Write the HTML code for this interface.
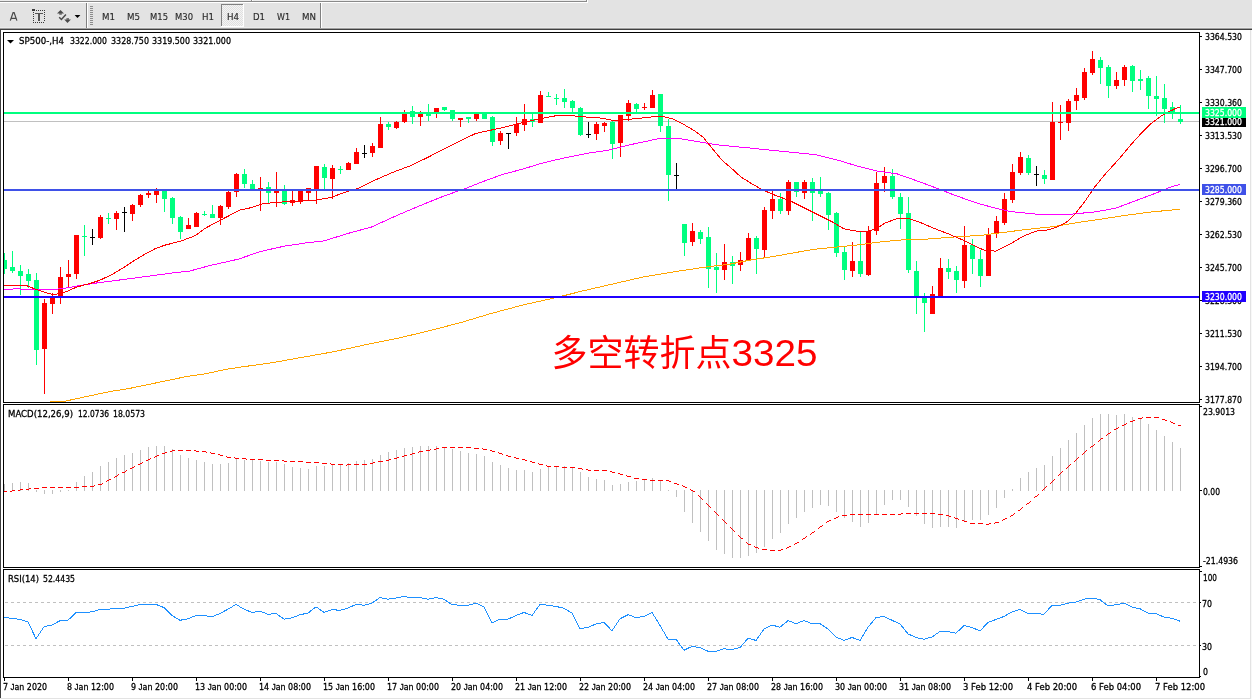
<!DOCTYPE html>
<html><head><meta charset="utf-8"><title>SP500 H4</title>
<style>html,body{margin:0;padding:0;background:#fff;overflow:hidden;}svg{display:block;will-change:transform;}</style>
</head><body>
<svg width="1252" height="699" viewBox="0 0 1252 699" shape-rendering="crispEdges" font-family="DejaVu Sans, Liberation Sans, sans-serif">
<rect x="0" y="0" width="1252" height="699" fill="#ffffff"/>
<rect x="0" y="0" width="1252" height="28" fill="#e3e3e3"/>
<rect x="0" y="0" width="586" height="1" fill="#ececec"/>
<rect x="0" y="1" width="586" height="1" fill="#8a8a8a"/>
<rect x="586" y="0" width="1" height="2" fill="#8a8a8a"/>
<rect x="0" y="2" width="588" height="1" fill="#ffffff"/>
<rect x="587" y="0" width="1" height="3" fill="#ffffff"/>
<rect x="251" y="0" width="1" height="1" fill="#8a8a8a"/>
<rect x="252" y="0" width="1" height="1" fill="#ffffff"/>
<rect x="0" y="27" width="1252" height="1" fill="#ebebeb"/>
<rect x="0" y="28" width="1252" height="1" fill="#a0a0a0"/>
<rect x="0" y="29" width="1252" height="1" fill="#404040"/>
<rect x="0" y="29" width="1" height="670" fill="#404040"/>
<rect x="1250" y="30" width="1" height="669" fill="#e3e3e3"/>
<rect x="0" y="698" width="1252" height="1" fill="#e3e3e3"/>
<rect x="1251" y="30" width="1" height="669" fill="#f8f8f8"/>
<rect x="86" y="3" width="1" height="25" fill="#808080"/>
<rect x="87" y="3" width="1" height="25" fill="#ffffff"/>
<rect x="90" y="6" width="3" height="1" fill="#8c8c8c"/>
<rect x="90" y="8" width="3" height="1" fill="#8c8c8c"/>
<rect x="90" y="10" width="3" height="1" fill="#8c8c8c"/>
<rect x="90" y="12" width="3" height="1" fill="#8c8c8c"/>
<rect x="90" y="14" width="3" height="1" fill="#8c8c8c"/>
<rect x="90" y="16" width="3" height="1" fill="#8c8c8c"/>
<rect x="90" y="18" width="3" height="1" fill="#8c8c8c"/>
<rect x="90" y="20" width="3" height="1" fill="#8c8c8c"/>
<rect x="90" y="22" width="3" height="1" fill="#8c8c8c"/>
<rect x="90" y="24" width="3" height="1" fill="#8c8c8c"/>
<rect x="320" y="3" width="1" height="25" fill="#808080"/>
<rect x="321" y="3" width="1" height="25" fill="#ffffff"/>
<defs><pattern id="chk" width="2" height="2" patternUnits="userSpaceOnUse"><rect width="2" height="2" fill="#f4f4f4"/><rect width="1" height="1" fill="#e0e0e0"/><rect x="1" y="1" width="1" height="1" fill="#e0e0e0"/></pattern><clipPath id="main"><rect x="4" y="33" width="1195" height="369"/></clipPath><clipPath id="macd"><rect x="4" y="405" width="1195" height="162"/></clipPath><clipPath id="rsi"><rect x="4" y="570" width="1195" height="107"/></clipPath></defs>
<rect x="221" y="4" width="23" height="23" fill="url(#chk)"/>
<rect x="221" y="4" width="22" height="1" fill="#808080"/>
<rect x="221" y="4" width="1" height="22" fill="#808080"/>
<rect x="221" y="26" width="23" height="1" fill="#ffffff"/>
<rect x="243" y="4" width="1" height="23" fill="#ffffff"/>
<text x="102" y="20" font-size="9.5" fill="#2a2a2a" stroke="#2a2a2a" stroke-width="0.15" textLength="13" lengthAdjust="spacingAndGlyphs">M1</text>
<text x="127" y="20" font-size="9.5" fill="#2a2a2a" stroke="#2a2a2a" stroke-width="0.15" textLength="13" lengthAdjust="spacingAndGlyphs">M5</text>
<text x="150" y="20" font-size="9.5" fill="#2a2a2a" stroke="#2a2a2a" stroke-width="0.15" textLength="18" lengthAdjust="spacingAndGlyphs">M15</text>
<text x="175" y="20" font-size="9.5" fill="#2a2a2a" stroke="#2a2a2a" stroke-width="0.15" textLength="18" lengthAdjust="spacingAndGlyphs">M30</text>
<text x="202" y="20" font-size="9.5" fill="#2a2a2a" stroke="#2a2a2a" stroke-width="0.15" textLength="12" lengthAdjust="spacingAndGlyphs">H1</text>
<text x="227" y="20" font-size="9.5" fill="#2a2a2a" stroke="#2a2a2a" stroke-width="0.15" textLength="12" lengthAdjust="spacingAndGlyphs">H4</text>
<text x="253" y="20" font-size="9.5" fill="#2a2a2a" stroke="#2a2a2a" stroke-width="0.15" textLength="12" lengthAdjust="spacingAndGlyphs">D1</text>
<text x="277" y="20" font-size="9.5" fill="#2a2a2a" stroke="#2a2a2a" stroke-width="0.15" textLength="13" lengthAdjust="spacingAndGlyphs">W1</text>
<text x="302" y="20" font-size="9.5" fill="#2a2a2a" stroke="#2a2a2a" stroke-width="0.15" textLength="14" lengthAdjust="spacingAndGlyphs">MN</text>
<path d="M10.3,20.6 L13.1,12.5 L14.1,12.5 L16.9,20.6 M11.4,18.3 L15.8,18.3" stroke="#4a4a4a" stroke-width="1.25" fill="none" shape-rendering="geometricPrecision"/>
<g fill="#3a3a3a"><rect x="36" y="10" width="1" height="1"/><rect x="38" y="10" width="1" height="1"/><rect x="40" y="10" width="1" height="1"/><rect x="42" y="10" width="1" height="1"/><rect x="44" y="10" width="1" height="1"/><rect x="33" y="12" width="1" height="1"/><rect x="33" y="14" width="1" height="1"/><rect x="33" y="16" width="1" height="1"/><rect x="33" y="18" width="1" height="1"/><rect x="33" y="20" width="1" height="1"/><rect x="33" y="22" width="1" height="1"/><rect x="35" y="22" width="1" height="1"/><rect x="37" y="22" width="1" height="1"/><rect x="39" y="22" width="1" height="1"/><rect x="41" y="22" width="1" height="1"/><rect x="43" y="22" width="1" height="1"/><rect x="44" y="12" width="1" height="1"/><rect x="44" y="14" width="1" height="1"/><rect x="44" y="16" width="1" height="1"/><rect x="44" y="18" width="1" height="1"/><rect x="44" y="20" width="1" height="1"/><rect x="32" y="9" width="3" height="2"/></g>
<rect x="35" y="13" width="8" height="1" fill="#555"/>
<rect x="38" y="13" width="2" height="8" fill="#555"/>
<g fill="#4a4a4a" shape-rendering="geometricPrecision"><polygon points="57,13.6 60.5,10 64,13.6"/><rect x="59.2" y="13.4" width="2.6" height="1.2"/><polygon points="64.2,19.4 70.9,19.4 67.5,23"/><rect x="66.4" y="18.3" width="2.6" height="1.3"/></g>
<polyline points="59.2,17.3 61.4,19.5 65.9,14.5" fill="none" stroke="#4a4a4a" stroke-width="1.5" shape-rendering="geometricPrecision"/>
<polygon points="74.6,15 80.4,15 77.5,18" fill="#000" shape-rendering="geometricPrecision"/>
<rect x="3" y="32" width="1197" height="1" fill="#000000"/>
<rect x="3" y="402" width="1197" height="1" fill="#000000"/>
<rect x="3" y="32" width="1" height="371" fill="#000000"/>
<rect x="1199" y="32" width="1" height="371" fill="#000000"/>
<rect x="3" y="404" width="1197" height="1" fill="#000000"/>
<rect x="3" y="567" width="1197" height="1" fill="#000000"/>
<rect x="3" y="404" width="1" height="164" fill="#000000"/>
<rect x="1199" y="404" width="1" height="164" fill="#000000"/>
<rect x="3" y="569" width="1197" height="1" fill="#000000"/>
<rect x="3" y="677" width="1197" height="1" fill="#000000"/>
<rect x="3" y="569" width="1" height="109" fill="#000000"/>
<rect x="1199" y="569" width="1" height="109" fill="#000000"/>
<g clip-path="url(#main)">
<rect x="4" y="121" width="1195" height="1" fill="#c0c0c0"/>
<rect x="4" y="253" width="1" height="21" fill="#00ff7f"/>
<rect x="2" y="260" width="5" height="9" fill="#00ff7f"/>
<rect x="12" y="251" width="1" height="22" fill="#00ff7f"/>
<rect x="10" y="267" width="5" height="4" fill="#00ff7f"/>
<rect x="20" y="265" width="1" height="30" fill="#00ff7f"/>
<rect x="18" y="271" width="5" height="5" fill="#00ff7f"/>
<rect x="28" y="269" width="1" height="19" fill="#00ff7f"/>
<rect x="26" y="274" width="5" height="7" fill="#00ff7f"/>
<rect x="36" y="273" width="1" height="92" fill="#00ff7f"/>
<rect x="34" y="280" width="5" height="70" fill="#00ff7f"/>
<rect x="44" y="299" width="1" height="95" fill="#ff0000"/>
<rect x="42" y="303" width="5" height="46" fill="#ff0000"/>
<rect x="52" y="293" width="1" height="21" fill="#ff0000"/>
<rect x="50" y="297" width="5" height="7" fill="#ff0000"/>
<rect x="60" y="267" width="1" height="37" fill="#ff0000"/>
<rect x="58" y="277" width="5" height="19" fill="#ff0000"/>
<rect x="68" y="260" width="1" height="27" fill="#ff0000"/>
<rect x="66" y="274" width="5" height="3" fill="#ff0000"/>
<rect x="76" y="235" width="1" height="44" fill="#ff0000"/>
<rect x="74" y="235" width="5" height="39" fill="#ff0000"/>
<rect x="84" y="225" width="1" height="31" fill="#00ff7f"/>
<rect x="82" y="236" width="5" height="1" fill="#00ff7f"/>
<rect x="92" y="229" width="1" height="16" fill="#000000"/>
<rect x="90" y="237" width="5" height="1" fill="#000000"/>
<rect x="100" y="215" width="1" height="24" fill="#ff0000"/>
<rect x="98" y="217" width="5" height="21" fill="#ff0000"/>
<rect x="108" y="213" width="1" height="11" fill="#00ff7f"/>
<rect x="106" y="218" width="5" height="1" fill="#00ff7f"/>
<rect x="116" y="211" width="1" height="19" fill="#ff0000"/>
<rect x="114" y="213" width="5" height="6" fill="#ff0000"/>
<rect x="124" y="207" width="1" height="25" fill="#000000"/>
<rect x="122" y="212" width="5" height="1" fill="#000000"/>
<rect x="132" y="204" width="1" height="17" fill="#ff0000"/>
<rect x="130" y="205" width="5" height="9" fill="#ff0000"/>
<rect x="140" y="194" width="1" height="13" fill="#ff0000"/>
<rect x="138" y="195" width="5" height="10" fill="#ff0000"/>
<rect x="148" y="191" width="1" height="7" fill="#ff0000"/>
<rect x="146" y="193" width="5" height="2" fill="#ff0000"/>
<rect x="156" y="188" width="1" height="15" fill="#ff0000"/>
<rect x="154" y="191" width="5" height="4" fill="#ff0000"/>
<rect x="164" y="190" width="1" height="22" fill="#00ff7f"/>
<rect x="162" y="191" width="5" height="8" fill="#00ff7f"/>
<rect x="172" y="197" width="1" height="27" fill="#00ff7f"/>
<rect x="170" y="198" width="5" height="20" fill="#00ff7f"/>
<rect x="180" y="216" width="1" height="23" fill="#00ff7f"/>
<rect x="178" y="217" width="5" height="15" fill="#00ff7f"/>
<rect x="188" y="218" width="1" height="11" fill="#ff0000"/>
<rect x="186" y="225" width="5" height="4" fill="#ff0000"/>
<rect x="196" y="212" width="1" height="15" fill="#ff0000"/>
<rect x="194" y="213" width="5" height="14" fill="#ff0000"/>
<rect x="204" y="211" width="1" height="5" fill="#00ff7f"/>
<rect x="202" y="214" width="5" height="1" fill="#00ff7f"/>
<rect x="212" y="205" width="1" height="13" fill="#00ff7f"/>
<rect x="210" y="214" width="5" height="4" fill="#00ff7f"/>
<rect x="220" y="205" width="1" height="20" fill="#ff0000"/>
<rect x="218" y="206" width="5" height="12" fill="#ff0000"/>
<rect x="228" y="191" width="1" height="18" fill="#ff0000"/>
<rect x="226" y="192" width="5" height="15" fill="#ff0000"/>
<rect x="236" y="173" width="1" height="24" fill="#ff0000"/>
<rect x="234" y="174" width="5" height="18" fill="#ff0000"/>
<rect x="244" y="169" width="1" height="19" fill="#00ff7f"/>
<rect x="242" y="174" width="5" height="10" fill="#00ff7f"/>
<rect x="252" y="180" width="1" height="10" fill="#00ff7f"/>
<rect x="250" y="184" width="5" height="5" fill="#00ff7f"/>
<rect x="260" y="177" width="1" height="34" fill="#ff0000"/>
<rect x="258" y="188" width="5" height="1" fill="#ff0000"/>
<rect x="268" y="182" width="1" height="21" fill="#00ff7f"/>
<rect x="266" y="187" width="5" height="6" fill="#00ff7f"/>
<rect x="276" y="172" width="1" height="35" fill="#ff0000"/>
<rect x="274" y="191" width="5" height="2" fill="#ff0000"/>
<rect x="284" y="185" width="1" height="20" fill="#00ff7f"/>
<rect x="282" y="191" width="5" height="13" fill="#00ff7f"/>
<rect x="292" y="191" width="1" height="15" fill="#ff0000"/>
<rect x="290" y="200" width="5" height="3" fill="#ff0000"/>
<rect x="300" y="191" width="1" height="13" fill="#ff0000"/>
<rect x="298" y="191" width="5" height="11" fill="#ff0000"/>
<rect x="308" y="188" width="1" height="12" fill="#ff0000"/>
<rect x="306" y="188" width="5" height="5" fill="#ff0000"/>
<rect x="316" y="166" width="1" height="38" fill="#ff0000"/>
<rect x="314" y="166" width="5" height="24" fill="#ff0000"/>
<rect x="324" y="164" width="1" height="25" fill="#00ff7f"/>
<rect x="322" y="167" width="5" height="11" fill="#00ff7f"/>
<rect x="332" y="165" width="1" height="34" fill="#ff0000"/>
<rect x="330" y="168" width="5" height="11" fill="#ff0000"/>
<rect x="340" y="166" width="1" height="8" fill="#00ff7f"/>
<rect x="338" y="169" width="5" height="1" fill="#00ff7f"/>
<rect x="348" y="162" width="1" height="8" fill="#ff0000"/>
<rect x="346" y="163" width="5" height="7" fill="#ff0000"/>
<rect x="356" y="148" width="1" height="16" fill="#ff0000"/>
<rect x="354" y="152" width="5" height="12" fill="#ff0000"/>
<rect x="364" y="145" width="1" height="13" fill="#000000"/>
<rect x="362" y="153" width="5" height="1" fill="#000000"/>
<rect x="372" y="143" width="1" height="14" fill="#ff0000"/>
<rect x="370" y="146" width="5" height="7" fill="#ff0000"/>
<rect x="380" y="117" width="1" height="31" fill="#ff0000"/>
<rect x="378" y="124" width="5" height="24" fill="#ff0000"/>
<rect x="388" y="122" width="1" height="8" fill="#00ff7f"/>
<rect x="386" y="124" width="5" height="3" fill="#00ff7f"/>
<rect x="396" y="121" width="1" height="8" fill="#ff0000"/>
<rect x="394" y="122" width="5" height="6" fill="#ff0000"/>
<rect x="404" y="110" width="1" height="13" fill="#ff0000"/>
<rect x="402" y="114" width="5" height="8" fill="#ff0000"/>
<rect x="412" y="106" width="1" height="18" fill="#00ff7f"/>
<rect x="410" y="111" width="5" height="6" fill="#00ff7f"/>
<rect x="420" y="111" width="1" height="15" fill="#ff0000"/>
<rect x="418" y="114" width="5" height="3" fill="#ff0000"/>
<rect x="428" y="104" width="1" height="17" fill="#00ff7f"/>
<rect x="426" y="113" width="5" height="3" fill="#00ff7f"/>
<rect x="436" y="108" width="1" height="10" fill="#ff0000"/>
<rect x="434" y="108" width="5" height="4" fill="#ff0000"/>
<rect x="444" y="107" width="1" height="4" fill="#00ff7f"/>
<rect x="442" y="107" width="5" height="3" fill="#00ff7f"/>
<rect x="452" y="110" width="1" height="11" fill="#00ff7f"/>
<rect x="450" y="110" width="5" height="9" fill="#00ff7f"/>
<rect x="460" y="118" width="1" height="9" fill="#ff0000"/>
<rect x="458" y="118" width="5" height="2" fill="#ff0000"/>
<rect x="468" y="117" width="1" height="6" fill="#00ff7f"/>
<rect x="466" y="117" width="5" height="2" fill="#00ff7f"/>
<rect x="476" y="114" width="1" height="7" fill="#ff0000"/>
<rect x="474" y="114" width="5" height="5" fill="#ff0000"/>
<rect x="484" y="113" width="1" height="6" fill="#00ff7f"/>
<rect x="482" y="114" width="5" height="5" fill="#00ff7f"/>
<rect x="492" y="116" width="1" height="30" fill="#00ff7f"/>
<rect x="490" y="117" width="5" height="25" fill="#00ff7f"/>
<rect x="500" y="131" width="1" height="14" fill="#ff0000"/>
<rect x="498" y="133" width="5" height="8" fill="#ff0000"/>
<rect x="508" y="133" width="1" height="16" fill="#000000"/>
<rect x="506" y="133" width="5" height="1" fill="#000000"/>
<rect x="516" y="117" width="1" height="19" fill="#ff0000"/>
<rect x="514" y="124" width="5" height="9" fill="#ff0000"/>
<rect x="524" y="104" width="1" height="27" fill="#ff0000"/>
<rect x="522" y="119" width="5" height="6" fill="#ff0000"/>
<rect x="532" y="114" width="1" height="13" fill="#00ff7f"/>
<rect x="530" y="119" width="5" height="3" fill="#00ff7f"/>
<rect x="540" y="91" width="1" height="32" fill="#ff0000"/>
<rect x="538" y="95" width="5" height="28" fill="#ff0000"/>
<rect x="548" y="92" width="1" height="4" fill="#00ff7f"/>
<rect x="546" y="96" width="5" height="1" fill="#00ff7f"/>
<rect x="556" y="94" width="1" height="11" fill="#00ff7f"/>
<rect x="554" y="98" width="5" height="1" fill="#00ff7f"/>
<rect x="564" y="89" width="1" height="19" fill="#00ff7f"/>
<rect x="562" y="98" width="5" height="4" fill="#00ff7f"/>
<rect x="572" y="100" width="1" height="14" fill="#00ff7f"/>
<rect x="570" y="101" width="5" height="7" fill="#00ff7f"/>
<rect x="580" y="107" width="1" height="29" fill="#00ff7f"/>
<rect x="578" y="108" width="5" height="27" fill="#00ff7f"/>
<rect x="588" y="122" width="1" height="16" fill="#000000"/>
<rect x="586" y="134" width="5" height="1" fill="#000000"/>
<rect x="596" y="122" width="1" height="18" fill="#ff0000"/>
<rect x="594" y="124" width="5" height="10" fill="#ff0000"/>
<rect x="604" y="122" width="1" height="10" fill="#ff0000"/>
<rect x="602" y="123" width="5" height="3" fill="#ff0000"/>
<rect x="612" y="121" width="1" height="38" fill="#00ff7f"/>
<rect x="610" y="122" width="5" height="22" fill="#00ff7f"/>
<rect x="620" y="115" width="1" height="42" fill="#ff0000"/>
<rect x="618" y="115" width="5" height="28" fill="#ff0000"/>
<rect x="628" y="100" width="1" height="21" fill="#ff0000"/>
<rect x="626" y="103" width="5" height="13" fill="#ff0000"/>
<rect x="636" y="103" width="1" height="9" fill="#00ff7f"/>
<rect x="634" y="104" width="5" height="5" fill="#00ff7f"/>
<rect x="644" y="103" width="1" height="7" fill="#ff0000"/>
<rect x="642" y="107" width="5" height="1" fill="#ff0000"/>
<rect x="652" y="90" width="1" height="18" fill="#ff0000"/>
<rect x="650" y="95" width="5" height="13" fill="#ff0000"/>
<rect x="660" y="94" width="1" height="38" fill="#00ff7f"/>
<rect x="658" y="94" width="5" height="32" fill="#00ff7f"/>
<rect x="668" y="119" width="1" height="82" fill="#00ff7f"/>
<rect x="666" y="126" width="5" height="49" fill="#00ff7f"/>
<rect x="676" y="163" width="1" height="27" fill="#000000"/>
<rect x="674" y="175" width="5" height="1" fill="#000000"/>
<rect x="684" y="224" width="1" height="32" fill="#00ff7f"/>
<rect x="682" y="224" width="5" height="19" fill="#00ff7f"/>
<rect x="692" y="223" width="1" height="23" fill="#ff0000"/>
<rect x="690" y="231" width="5" height="11" fill="#ff0000"/>
<rect x="700" y="230" width="1" height="14" fill="#00ff7f"/>
<rect x="698" y="232" width="5" height="7" fill="#00ff7f"/>
<rect x="708" y="227" width="1" height="61" fill="#00ff7f"/>
<rect x="706" y="237" width="5" height="32" fill="#00ff7f"/>
<rect x="716" y="253" width="1" height="40" fill="#00ff7f"/>
<rect x="714" y="267" width="5" height="3" fill="#00ff7f"/>
<rect x="724" y="244" width="1" height="36" fill="#ff0000"/>
<rect x="722" y="262" width="5" height="8" fill="#ff0000"/>
<rect x="732" y="256" width="1" height="28" fill="#00ff7f"/>
<rect x="730" y="262" width="5" height="4" fill="#00ff7f"/>
<rect x="740" y="252" width="1" height="19" fill="#ff0000"/>
<rect x="738" y="260" width="5" height="5" fill="#ff0000"/>
<rect x="748" y="233" width="1" height="27" fill="#ff0000"/>
<rect x="746" y="238" width="5" height="22" fill="#ff0000"/>
<rect x="756" y="236" width="1" height="38" fill="#00ff7f"/>
<rect x="754" y="238" width="5" height="11" fill="#00ff7f"/>
<rect x="764" y="207" width="1" height="50" fill="#ff0000"/>
<rect x="762" y="210" width="5" height="40" fill="#ff0000"/>
<rect x="772" y="191" width="1" height="28" fill="#ff0000"/>
<rect x="770" y="199" width="5" height="12" fill="#ff0000"/>
<rect x="780" y="193" width="1" height="21" fill="#00ff7f"/>
<rect x="778" y="199" width="5" height="12" fill="#00ff7f"/>
<rect x="788" y="180" width="1" height="35" fill="#ff0000"/>
<rect x="786" y="182" width="5" height="29" fill="#ff0000"/>
<rect x="796" y="182" width="1" height="15" fill="#00ff7f"/>
<rect x="794" y="182" width="5" height="10" fill="#00ff7f"/>
<rect x="804" y="180" width="1" height="19" fill="#ff0000"/>
<rect x="802" y="182" width="5" height="11" fill="#ff0000"/>
<rect x="812" y="178" width="1" height="43" fill="#00ff7f"/>
<rect x="810" y="182" width="5" height="11" fill="#00ff7f"/>
<rect x="820" y="177" width="1" height="20" fill="#00ff7f"/>
<rect x="818" y="190" width="5" height="4" fill="#00ff7f"/>
<rect x="828" y="192" width="1" height="38" fill="#00ff7f"/>
<rect x="826" y="193" width="5" height="22" fill="#00ff7f"/>
<rect x="836" y="212" width="1" height="45" fill="#00ff7f"/>
<rect x="834" y="213" width="5" height="40" fill="#00ff7f"/>
<rect x="844" y="246" width="1" height="34" fill="#00ff7f"/>
<rect x="842" y="252" width="5" height="18" fill="#00ff7f"/>
<rect x="852" y="242" width="1" height="35" fill="#ff0000"/>
<rect x="850" y="261" width="5" height="10" fill="#ff0000"/>
<rect x="860" y="231" width="1" height="46" fill="#00ff7f"/>
<rect x="858" y="261" width="5" height="13" fill="#00ff7f"/>
<rect x="868" y="226" width="1" height="50" fill="#ff0000"/>
<rect x="866" y="231" width="5" height="44" fill="#ff0000"/>
<rect x="876" y="172" width="1" height="63" fill="#ff0000"/>
<rect x="874" y="183" width="5" height="48" fill="#ff0000"/>
<rect x="884" y="167" width="1" height="25" fill="#ff0000"/>
<rect x="882" y="176" width="5" height="7" fill="#ff0000"/>
<rect x="892" y="169" width="1" height="30" fill="#00ff7f"/>
<rect x="890" y="176" width="5" height="21" fill="#00ff7f"/>
<rect x="900" y="193" width="1" height="36" fill="#00ff7f"/>
<rect x="898" y="197" width="5" height="17" fill="#00ff7f"/>
<rect x="908" y="197" width="1" height="76" fill="#00ff7f"/>
<rect x="906" y="213" width="5" height="57" fill="#00ff7f"/>
<rect x="916" y="261" width="1" height="53" fill="#00ff7f"/>
<rect x="914" y="271" width="5" height="27" fill="#00ff7f"/>
<rect x="924" y="293" width="1" height="39" fill="#00ff7f"/>
<rect x="922" y="298" width="5" height="5" fill="#00ff7f"/>
<rect x="932" y="286" width="1" height="28" fill="#ff0000"/>
<rect x="930" y="294" width="5" height="20" fill="#ff0000"/>
<rect x="940" y="258" width="1" height="40" fill="#ff0000"/>
<rect x="938" y="268" width="5" height="30" fill="#ff0000"/>
<rect x="948" y="259" width="1" height="20" fill="#00ff7f"/>
<rect x="946" y="268" width="5" height="4" fill="#00ff7f"/>
<rect x="956" y="266" width="1" height="27" fill="#00ff7f"/>
<rect x="954" y="271" width="5" height="9" fill="#00ff7f"/>
<rect x="964" y="226" width="1" height="62" fill="#ff0000"/>
<rect x="962" y="245" width="5" height="36" fill="#ff0000"/>
<rect x="972" y="239" width="1" height="35" fill="#00ff7f"/>
<rect x="970" y="245" width="5" height="14" fill="#00ff7f"/>
<rect x="980" y="250" width="1" height="37" fill="#00ff7f"/>
<rect x="978" y="259" width="5" height="17" fill="#00ff7f"/>
<rect x="988" y="228" width="1" height="48" fill="#ff0000"/>
<rect x="986" y="234" width="5" height="42" fill="#ff0000"/>
<rect x="996" y="216" width="1" height="22" fill="#ff0000"/>
<rect x="994" y="221" width="5" height="13" fill="#ff0000"/>
<rect x="1004" y="193" width="1" height="32" fill="#ff0000"/>
<rect x="1002" y="199" width="5" height="24" fill="#ff0000"/>
<rect x="1012" y="164" width="1" height="39" fill="#ff0000"/>
<rect x="1010" y="172" width="5" height="28" fill="#ff0000"/>
<rect x="1020" y="152" width="1" height="23" fill="#ff0000"/>
<rect x="1018" y="157" width="5" height="16" fill="#ff0000"/>
<rect x="1028" y="155" width="1" height="20" fill="#00ff7f"/>
<rect x="1026" y="158" width="5" height="15" fill="#00ff7f"/>
<rect x="1036" y="166" width="1" height="20" fill="#000000"/>
<rect x="1034" y="174" width="5" height="1" fill="#000000"/>
<rect x="1044" y="170" width="1" height="14" fill="#00ff7f"/>
<rect x="1042" y="175" width="5" height="4" fill="#00ff7f"/>
<rect x="1052" y="102" width="1" height="78" fill="#ff0000"/>
<rect x="1050" y="122" width="5" height="58" fill="#ff0000"/>
<rect x="1060" y="105" width="1" height="35" fill="#ff0000"/>
<rect x="1058" y="122" width="5" height="1" fill="#ff0000"/>
<rect x="1068" y="99" width="1" height="32" fill="#ff0000"/>
<rect x="1066" y="101" width="5" height="22" fill="#ff0000"/>
<rect x="1076" y="88" width="1" height="22" fill="#ff0000"/>
<rect x="1074" y="95" width="5" height="6" fill="#ff0000"/>
<rect x="1084" y="68" width="1" height="32" fill="#ff0000"/>
<rect x="1082" y="72" width="5" height="26" fill="#ff0000"/>
<rect x="1092" y="51" width="1" height="24" fill="#ff0000"/>
<rect x="1090" y="59" width="5" height="14" fill="#ff0000"/>
<rect x="1100" y="57" width="1" height="27" fill="#00ff7f"/>
<rect x="1098" y="60" width="5" height="8" fill="#00ff7f"/>
<rect x="1108" y="65" width="1" height="33" fill="#00ff7f"/>
<rect x="1106" y="67" width="5" height="19" fill="#00ff7f"/>
<rect x="1116" y="72" width="1" height="17" fill="#ff0000"/>
<rect x="1114" y="80" width="5" height="6" fill="#ff0000"/>
<rect x="1124" y="65" width="1" height="21" fill="#ff0000"/>
<rect x="1122" y="67" width="5" height="13" fill="#ff0000"/>
<rect x="1132" y="65" width="1" height="27" fill="#00ff7f"/>
<rect x="1130" y="66" width="5" height="15" fill="#00ff7f"/>
<rect x="1140" y="70" width="1" height="20" fill="#00ff7f"/>
<rect x="1138" y="79" width="5" height="2" fill="#00ff7f"/>
<rect x="1148" y="76" width="1" height="33" fill="#00ff7f"/>
<rect x="1146" y="78" width="5" height="18" fill="#00ff7f"/>
<rect x="1156" y="76" width="1" height="40" fill="#00ff7f"/>
<rect x="1154" y="96" width="5" height="3" fill="#00ff7f"/>
<rect x="1164" y="84" width="1" height="39" fill="#00ff7f"/>
<rect x="1162" y="98" width="5" height="11" fill="#00ff7f"/>
<rect x="1172" y="102" width="1" height="17" fill="#00ff7f"/>
<rect x="1170" y="107" width="5" height="5" fill="#00ff7f"/>
<rect x="1180" y="105" width="1" height="19" fill="#00ff7f"/>
<rect x="1178" y="119" width="5" height="3" fill="#00ff7f"/>
<polyline points="50.0,401.5 64.0,401.4 110.0,391.5 129.2,388.5 148.4,384.5 167.5,380.5 186.7,376.5 205.9,373.7 225.0,369.5 242.8,366.8 273.1,362.6 303.5,357.1 333.8,351.7 370.0,343.8 400.3,337.7 430.7,330.4 461.0,322.5 491.4,313.4 521.7,305.3 558.2,297.1 582.4,291.0 612.8,284.0 643.1,277.0 673.5,271.9 703.8,267.3 730.0,264.1 751.5,259.8 772.9,256.6 794.4,252.7 815.8,249.1 837.3,247.0 858.8,244.8 880.2,242.0 901.7,239.9 923.1,239.4 944.6,237.7 966.0,236.2 980.0,235.5 1004.3,232.3 1028.7,229.2 1053.0,226.7 1077.3,222.6 1101.7,219.0 1126.0,215.3 1150.3,212.1 1180.0,209.2" fill="none" stroke="#ffa500" stroke-width="1"/>
<polyline points="3.8,289.3 16.3,288.9 38.3,289.6 55.6,289.3 69.0,287.7 80.5,285.4 95.8,283.1 115.0,280.6 134.2,278.1 153.3,275.5 172.5,273.0 189.8,271.0 210.8,265.3 238.6,259.1 260.0,251.6 283.6,246.3 305.1,243.0 324.4,240.9 345.9,234.0 371.6,227.0 397.4,215.2 423.1,204.4 444.6,195.8 466.0,188.3 480.0,182.7 501.5,174.8 522.9,169.0 544.4,162.5 565.8,157.6 587.3,153.3 608.8,150.1 630.2,144.7 647.4,141.1 660.3,138.3 677.4,138.3 694.6,141.1 716.0,144.7 730.0,146.1 751.5,148.2 772.9,150.4 794.4,152.5 815.8,154.7 837.3,160.0 858.8,166.5 875.9,170.8 897.4,174.0 918.8,181.5 936.0,187.9 955.3,195.5 976.8,203.0 994.6,208.0 1011.6,211.7 1040.8,214.6 1072.5,214.1 1096.8,211.7 1116.3,208.0 1135.7,200.7 1155.2,193.4 1169.8,187.3 1180.0,184.4" fill="none" stroke="#ff00ff" stroke-width="1"/>
<polyline points="3.8,285.0 24.0,285.0 28.8,286.4 34.5,288.9 44.1,292.1 52.7,294.6 57.5,294.0 65.2,292.1 76.7,287.0 90.1,283.5 99.7,280.3 111.2,274.9 122.7,268.2 134.2,260.5 145.7,253.8 155.3,248.6 164.8,245.2 180.2,241.3 195.5,235.6 205.1,228.3 216.6,222.2 230.0,215.2 240.7,209.8 251.5,207.6 262.2,203.8 277.2,202.3 294.4,201.2 315.8,200.1 330.9,197.6 343.7,192.6 358.8,188.3 375.9,179.7 393.1,172.2 410.3,165.8 427.4,157.6 444.6,148.6 461.8,140.0 474.6,134.0 480.0,132.5 492.9,129.7 505.8,126.9 522.9,122.6 535.8,119.6 544.4,117.9 553.0,116.2 561.5,115.1 570.1,115.3 580.9,116.8 593.7,117.3 602.3,118.3 613.0,120.5 625.9,119.6 643.1,117.9 656.0,116.4 664.5,116.8 673.1,119.0 681.7,123.3 694.6,130.8 703.2,137.2 711.8,147.9 722.5,160.8 730.0,166.9 740.7,176.8 751.5,183.6 762.2,189.7 772.9,194.4 790.1,200.8 805.1,208.3 820.1,215.8 833.0,222.3 843.7,228.7 854.5,230.9 865.2,231.9 875.9,229.1 884.5,223.3 897.4,218.4 908.1,218.4 918.8,221.8 933.9,228.3 948.9,234.1 963.9,240.5 976.8,247.0 985.4,250.6 995.8,251.1 1009.2,244.5 1023.8,236.0 1036.0,231.1 1048.1,229.9 1057.9,226.7 1067.6,221.4 1074.9,214.1 1084.6,201.9 1094.4,187.3 1106.5,172.7 1118.7,159.3 1130.9,144.7 1143.0,131.4 1150.3,124.1 1160.0,116.8 1167.3,112.4 1174.6,109.0 1180.0,107.0" fill="none" stroke="#ff0000" stroke-width="1"/>
<rect x="4" y="112" width="1195" height="2" fill="#00ff7f"/>
<rect x="4" y="189" width="1195" height="2" fill="#3f51e8"/>
<rect x="4" y="296" width="1195" height="2" fill="#2000ff"/>
</g>
<text x="551.5" y="366" font-size="36" fill="#ff0000" font-family="Noto Sans CJK SC, sans-serif">多空转折点</text>
<text x="731.5" y="365.5" font-size="36.5" fill="#ff0000" font-family="Liberation Sans, sans-serif" textLength="86" lengthAdjust="spacingAndGlyphs">3325</text>
<rect x="1200" y="36" width="2" height="1" fill="#000000"/>
<text x="1205" y="40" font-size="9.5" fill="#000" stroke="#000" stroke-width="0.3" textLength="37" lengthAdjust="spacingAndGlyphs">3364.530</text>
<rect x="1200" y="69" width="2" height="1" fill="#000000"/>
<text x="1205" y="73" font-size="9.5" fill="#000" stroke="#000" stroke-width="0.3" textLength="37" lengthAdjust="spacingAndGlyphs">3347.700</text>
<rect x="1200" y="102" width="2" height="1" fill="#000000"/>
<text x="1205" y="106" font-size="9.5" fill="#000" stroke="#000" stroke-width="0.3" textLength="37" lengthAdjust="spacingAndGlyphs">3330.360</text>
<rect x="1200" y="135" width="2" height="1" fill="#000000"/>
<text x="1205" y="139" font-size="9.5" fill="#000" stroke="#000" stroke-width="0.3" textLength="37" lengthAdjust="spacingAndGlyphs">3313.530</text>
<rect x="1200" y="168" width="2" height="1" fill="#000000"/>
<text x="1205" y="172" font-size="9.5" fill="#000" stroke="#000" stroke-width="0.3" textLength="37" lengthAdjust="spacingAndGlyphs">3296.700</text>
<rect x="1200" y="201" width="2" height="1" fill="#000000"/>
<text x="1205" y="205" font-size="9.5" fill="#000" stroke="#000" stroke-width="0.3" textLength="37" lengthAdjust="spacingAndGlyphs">3279.360</text>
<rect x="1200" y="234" width="2" height="1" fill="#000000"/>
<text x="1205" y="238" font-size="9.5" fill="#000" stroke="#000" stroke-width="0.3" textLength="37" lengthAdjust="spacingAndGlyphs">3262.530</text>
<rect x="1200" y="267" width="2" height="1" fill="#000000"/>
<text x="1205" y="271" font-size="9.5" fill="#000" stroke="#000" stroke-width="0.3" textLength="37" lengthAdjust="spacingAndGlyphs">3245.700</text>
<rect x="1200" y="300" width="2" height="1" fill="#000000"/>
<text x="1205" y="304" font-size="9.5" fill="#000" stroke="#000" stroke-width="0.3" textLength="37" lengthAdjust="spacingAndGlyphs">3228.360</text>
<rect x="1200" y="333" width="2" height="1" fill="#000000"/>
<text x="1205" y="337" font-size="9.5" fill="#000" stroke="#000" stroke-width="0.3" textLength="37" lengthAdjust="spacingAndGlyphs">3211.530</text>
<rect x="1200" y="366" width="2" height="1" fill="#000000"/>
<text x="1205" y="370" font-size="9.5" fill="#000" stroke="#000" stroke-width="0.3" textLength="37" lengthAdjust="spacingAndGlyphs">3194.700</text>
<rect x="1200" y="399" width="2" height="1" fill="#000000"/>
<text x="1205" y="403" font-size="9.5" fill="#000" stroke="#000" stroke-width="0.3" textLength="37" lengthAdjust="spacingAndGlyphs">3177.870</text>
<rect x="1202" y="116" width="44" height="11" fill="#000000"/>
<text x="1205" y="125" font-size="9.5" fill="#fff" stroke="#fff" stroke-width="0.3" textLength="37" lengthAdjust="spacingAndGlyphs">3321.000</text>
<rect x="1202" y="107" width="44" height="11" fill="#00ff7f"/>
<text x="1205" y="116" font-size="9.5" fill="#fff" stroke="#fff" stroke-width="0.3" textLength="37" lengthAdjust="spacingAndGlyphs">3325.000</text>
<rect x="1202" y="184" width="44" height="11" fill="#3f51e8"/>
<text x="1205" y="193" font-size="9.5" fill="#fff" stroke="#fff" stroke-width="0.3" textLength="37" lengthAdjust="spacingAndGlyphs">3285.000</text>
<rect x="1202" y="291" width="44" height="11" fill="#2000ff"/>
<text x="1205" y="300" font-size="9.5" fill="#fff" stroke="#fff" stroke-width="0.3" textLength="37" lengthAdjust="spacingAndGlyphs">3230.000</text>
<polygon points="7,40 14,40 10.5,43.5" fill="#000" shape-rendering="geometricPrecision"/>
<text x="19" y="44" font-size="9.5" fill="#000" stroke="#000" stroke-width="0.3" textLength="45" lengthAdjust="spacingAndGlyphs">SP500-,H4</text>
<text x="70" y="44" font-size="9.5" fill="#000" stroke="#000" stroke-width="0.3" textLength="37" lengthAdjust="spacingAndGlyphs">3322.000</text>
<text x="111" y="44" font-size="9.5" fill="#000" stroke="#000" stroke-width="0.3" textLength="38" lengthAdjust="spacingAndGlyphs">3328.750</text>
<text x="152" y="44" font-size="9.5" fill="#000" stroke="#000" stroke-width="0.3" textLength="38" lengthAdjust="spacingAndGlyphs">3319.500</text>
<text x="193" y="44" font-size="9.5" fill="#000" stroke="#000" stroke-width="0.3" textLength="38" lengthAdjust="spacingAndGlyphs">3321.000</text>
<g clip-path="url(#macd)">
<rect x="4" y="484" width="1" height="7" fill="#c0c0c0"/>
<rect x="12" y="483" width="1" height="8" fill="#c0c0c0"/>
<rect x="20" y="482" width="1" height="9" fill="#c0c0c0"/>
<rect x="28" y="483" width="1" height="8" fill="#c0c0c0"/>
<rect x="36" y="490" width="1" height="2" fill="#c0c0c0"/>
<rect x="44" y="490" width="1" height="4" fill="#c0c0c0"/>
<rect x="52" y="490" width="1" height="4" fill="#c0c0c0"/>
<rect x="60" y="490" width="1" height="2" fill="#c0c0c0"/>
<rect x="68" y="490" width="1" height="1" fill="#c0c0c0"/>
<rect x="76" y="482" width="1" height="9" fill="#c0c0c0"/>
<rect x="84" y="476" width="1" height="15" fill="#c0c0c0"/>
<rect x="92" y="472" width="1" height="19" fill="#c0c0c0"/>
<rect x="100" y="466" width="1" height="25" fill="#c0c0c0"/>
<rect x="108" y="462" width="1" height="29" fill="#c0c0c0"/>
<rect x="116" y="458" width="1" height="33" fill="#c0c0c0"/>
<rect x="124" y="455" width="1" height="36" fill="#c0c0c0"/>
<rect x="132" y="453" width="1" height="38" fill="#c0c0c0"/>
<rect x="140" y="450" width="1" height="41" fill="#c0c0c0"/>
<rect x="148" y="447" width="1" height="44" fill="#c0c0c0"/>
<rect x="156" y="446" width="1" height="45" fill="#c0c0c0"/>
<rect x="164" y="446" width="1" height="45" fill="#c0c0c0"/>
<rect x="172" y="449" width="1" height="42" fill="#c0c0c0"/>
<rect x="180" y="455" width="1" height="36" fill="#c0c0c0"/>
<rect x="188" y="458" width="1" height="33" fill="#c0c0c0"/>
<rect x="196" y="460" width="1" height="31" fill="#c0c0c0"/>
<rect x="204" y="462" width="1" height="29" fill="#c0c0c0"/>
<rect x="212" y="464" width="1" height="27" fill="#c0c0c0"/>
<rect x="220" y="464" width="1" height="27" fill="#c0c0c0"/>
<rect x="228" y="463" width="1" height="28" fill="#c0c0c0"/>
<rect x="236" y="458" width="1" height="33" fill="#c0c0c0"/>
<rect x="244" y="460" width="1" height="31" fill="#c0c0c0"/>
<rect x="252" y="460" width="1" height="31" fill="#c0c0c0"/>
<rect x="260" y="461" width="1" height="30" fill="#c0c0c0"/>
<rect x="268" y="462" width="1" height="29" fill="#c0c0c0"/>
<rect x="276" y="462" width="1" height="29" fill="#c0c0c0"/>
<rect x="284" y="464" width="1" height="27" fill="#c0c0c0"/>
<rect x="292" y="467" width="1" height="24" fill="#c0c0c0"/>
<rect x="300" y="468" width="1" height="23" fill="#c0c0c0"/>
<rect x="308" y="469" width="1" height="22" fill="#c0c0c0"/>
<rect x="316" y="466" width="1" height="25" fill="#c0c0c0"/>
<rect x="324" y="466" width="1" height="25" fill="#c0c0c0"/>
<rect x="332" y="465" width="1" height="26" fill="#c0c0c0"/>
<rect x="340" y="464" width="1" height="27" fill="#c0c0c0"/>
<rect x="348" y="463" width="1" height="28" fill="#c0c0c0"/>
<rect x="356" y="461" width="1" height="30" fill="#c0c0c0"/>
<rect x="364" y="460" width="1" height="31" fill="#c0c0c0"/>
<rect x="372" y="459" width="1" height="32" fill="#c0c0c0"/>
<rect x="380" y="455" width="1" height="36" fill="#c0c0c0"/>
<rect x="388" y="452" width="1" height="39" fill="#c0c0c0"/>
<rect x="396" y="450" width="1" height="41" fill="#c0c0c0"/>
<rect x="404" y="448" width="1" height="43" fill="#c0c0c0"/>
<rect x="412" y="447" width="1" height="44" fill="#c0c0c0"/>
<rect x="420" y="446" width="1" height="45" fill="#c0c0c0"/>
<rect x="428" y="446" width="1" height="45" fill="#c0c0c0"/>
<rect x="436" y="446" width="1" height="45" fill="#c0c0c0"/>
<rect x="444" y="448" width="1" height="43" fill="#c0c0c0"/>
<rect x="452" y="449" width="1" height="42" fill="#c0c0c0"/>
<rect x="460" y="451" width="1" height="40" fill="#c0c0c0"/>
<rect x="468" y="453" width="1" height="38" fill="#c0c0c0"/>
<rect x="476" y="454" width="1" height="37" fill="#c0c0c0"/>
<rect x="484" y="456" width="1" height="35" fill="#c0c0c0"/>
<rect x="492" y="462" width="1" height="29" fill="#c0c0c0"/>
<rect x="500" y="465" width="1" height="26" fill="#c0c0c0"/>
<rect x="508" y="468" width="1" height="23" fill="#c0c0c0"/>
<rect x="516" y="470" width="1" height="21" fill="#c0c0c0"/>
<rect x="524" y="470" width="1" height="21" fill="#c0c0c0"/>
<rect x="532" y="472" width="1" height="19" fill="#c0c0c0"/>
<rect x="540" y="469" width="1" height="22" fill="#c0c0c0"/>
<rect x="548" y="466" width="1" height="25" fill="#c0c0c0"/>
<rect x="556" y="466" width="1" height="25" fill="#c0c0c0"/>
<rect x="564" y="466" width="1" height="25" fill="#c0c0c0"/>
<rect x="572" y="467" width="1" height="24" fill="#c0c0c0"/>
<rect x="580" y="472" width="1" height="19" fill="#c0c0c0"/>
<rect x="588" y="477" width="1" height="14" fill="#c0c0c0"/>
<rect x="596" y="479" width="1" height="12" fill="#c0c0c0"/>
<rect x="604" y="480" width="1" height="11" fill="#c0c0c0"/>
<rect x="612" y="485" width="1" height="6" fill="#c0c0c0"/>
<rect x="620" y="484" width="1" height="7" fill="#c0c0c0"/>
<rect x="628" y="482" width="1" height="9" fill="#c0c0c0"/>
<rect x="636" y="481" width="1" height="10" fill="#c0c0c0"/>
<rect x="644" y="480" width="1" height="11" fill="#c0c0c0"/>
<rect x="652" y="478" width="1" height="13" fill="#c0c0c0"/>
<rect x="660" y="480" width="1" height="11" fill="#c0c0c0"/>
<rect x="668" y="490" width="1" height="1" fill="#c0c0c0"/>
<rect x="676" y="490" width="1" height="7" fill="#c0c0c0"/>
<rect x="684" y="490" width="1" height="22" fill="#c0c0c0"/>
<rect x="692" y="490" width="1" height="33" fill="#c0c0c0"/>
<rect x="700" y="490" width="1" height="42" fill="#c0c0c0"/>
<rect x="708" y="490" width="1" height="51" fill="#c0c0c0"/>
<rect x="716" y="490" width="1" height="60" fill="#c0c0c0"/>
<rect x="724" y="490" width="1" height="64" fill="#c0c0c0"/>
<rect x="732" y="490" width="1" height="68" fill="#c0c0c0"/>
<rect x="740" y="490" width="1" height="68" fill="#c0c0c0"/>
<rect x="748" y="490" width="1" height="66" fill="#c0c0c0"/>
<rect x="756" y="490" width="1" height="63" fill="#c0c0c0"/>
<rect x="764" y="490" width="1" height="57" fill="#c0c0c0"/>
<rect x="772" y="490" width="1" height="49" fill="#c0c0c0"/>
<rect x="780" y="490" width="1" height="43" fill="#c0c0c0"/>
<rect x="788" y="490" width="1" height="34" fill="#c0c0c0"/>
<rect x="796" y="490" width="1" height="28" fill="#c0c0c0"/>
<rect x="804" y="490" width="1" height="22" fill="#c0c0c0"/>
<rect x="812" y="490" width="1" height="18" fill="#c0c0c0"/>
<rect x="820" y="490" width="1" height="15" fill="#c0c0c0"/>
<rect x="828" y="490" width="1" height="16" fill="#c0c0c0"/>
<rect x="836" y="490" width="1" height="22" fill="#c0c0c0"/>
<rect x="844" y="490" width="1" height="28" fill="#c0c0c0"/>
<rect x="852" y="490" width="1" height="32" fill="#c0c0c0"/>
<rect x="860" y="490" width="1" height="37" fill="#c0c0c0"/>
<rect x="868" y="490" width="1" height="33" fill="#c0c0c0"/>
<rect x="876" y="490" width="1" height="24" fill="#c0c0c0"/>
<rect x="884" y="490" width="1" height="15" fill="#c0c0c0"/>
<rect x="892" y="490" width="1" height="10" fill="#c0c0c0"/>
<rect x="900" y="490" width="1" height="10" fill="#c0c0c0"/>
<rect x="908" y="490" width="1" height="17" fill="#c0c0c0"/>
<rect x="916" y="490" width="1" height="26" fill="#c0c0c0"/>
<rect x="924" y="490" width="1" height="34" fill="#c0c0c0"/>
<rect x="932" y="490" width="1" height="38" fill="#c0c0c0"/>
<rect x="940" y="490" width="1" height="37" fill="#c0c0c0"/>
<rect x="948" y="490" width="1" height="37" fill="#c0c0c0"/>
<rect x="956" y="490" width="1" height="38" fill="#c0c0c0"/>
<rect x="964" y="490" width="1" height="32" fill="#c0c0c0"/>
<rect x="972" y="490" width="1" height="30" fill="#c0c0c0"/>
<rect x="980" y="490" width="1" height="30" fill="#c0c0c0"/>
<rect x="988" y="490" width="1" height="25" fill="#c0c0c0"/>
<rect x="996" y="490" width="1" height="18" fill="#c0c0c0"/>
<rect x="1004" y="490" width="1" height="8" fill="#c0c0c0"/>
<rect x="1012" y="489" width="1" height="2" fill="#c0c0c0"/>
<rect x="1020" y="478" width="1" height="13" fill="#c0c0c0"/>
<rect x="1028" y="472" width="1" height="19" fill="#c0c0c0"/>
<rect x="1036" y="468" width="1" height="23" fill="#c0c0c0"/>
<rect x="1044" y="465" width="1" height="26" fill="#c0c0c0"/>
<rect x="1052" y="456" width="1" height="35" fill="#c0c0c0"/>
<rect x="1060" y="448" width="1" height="43" fill="#c0c0c0"/>
<rect x="1068" y="440" width="1" height="51" fill="#c0c0c0"/>
<rect x="1076" y="433" width="1" height="58" fill="#c0c0c0"/>
<rect x="1084" y="425" width="1" height="66" fill="#c0c0c0"/>
<rect x="1092" y="418" width="1" height="73" fill="#c0c0c0"/>
<rect x="1100" y="414" width="1" height="77" fill="#c0c0c0"/>
<rect x="1108" y="414" width="1" height="77" fill="#c0c0c0"/>
<rect x="1116" y="415" width="1" height="76" fill="#c0c0c0"/>
<rect x="1124" y="414" width="1" height="77" fill="#c0c0c0"/>
<rect x="1132" y="417" width="1" height="74" fill="#c0c0c0"/>
<rect x="1140" y="419" width="1" height="72" fill="#c0c0c0"/>
<rect x="1148" y="424" width="1" height="67" fill="#c0c0c0"/>
<rect x="1156" y="430" width="1" height="61" fill="#c0c0c0"/>
<rect x="1164" y="436" width="1" height="55" fill="#c0c0c0"/>
<rect x="1172" y="442" width="1" height="49" fill="#c0c0c0"/>
<rect x="1180" y="448" width="1" height="43" fill="#c0c0c0"/>
<g fill="#ff0000"><rect x="4" y="491" width="3" height="1"/><rect x="10" y="491" width="2" height="1"/><rect x="12" y="490" width="3" height="1"/><rect x="18" y="490" width="2" height="1"/><rect x="20" y="489" width="3" height="1"/><rect x="26" y="489" width="3" height="1"/><rect x="29" y="488" width="2" height="1"/><rect x="34" y="488" width="5" height="1"/><rect x="42" y="487" width="5" height="1"/><rect x="50" y="487" width="5" height="1"/><rect x="58" y="487" width="5" height="1"/><rect x="66" y="487" width="5" height="1"/><rect x="74" y="487" width="5" height="1"/><rect x="82" y="486" width="5" height="1"/><rect x="90" y="486" width="4" height="1"/><rect x="94" y="485" width="1" height="1"/><rect x="98" y="484" width="4" height="1"/><rect x="102" y="483" width="1" height="1"/><rect x="106" y="481" width="1" height="1"/><rect x="107" y="480" width="2" height="1"/><rect x="109" y="479" width="2" height="1"/><rect x="114" y="477" width="1" height="1"/><rect x="115" y="476" width="2" height="1"/><rect x="117" y="475" width="1" height="1"/><rect x="118" y="474" width="1" height="1"/><rect x="122" y="472" width="3" height="1"/><rect x="125" y="471" width="1" height="1"/><rect x="126" y="470" width="1" height="1"/><rect x="130" y="468" width="2" height="1"/><rect x="132" y="467" width="2" height="1"/><rect x="134" y="466" width="1" height="1"/><rect x="138" y="464" width="2" height="1"/><rect x="140" y="463" width="2" height="1"/><rect x="142" y="462" width="1" height="1"/><rect x="146" y="460" width="2" height="1"/><rect x="148" y="459" width="2" height="1"/><rect x="150" y="458" width="1" height="1"/><rect x="154" y="457" width="1" height="1"/><rect x="155" y="456" width="2" height="1"/><rect x="157" y="455" width="2" height="1"/><rect x="162" y="453" width="3" height="1"/><rect x="165" y="452" width="2" height="1"/><rect x="170" y="451" width="2" height="1"/><rect x="172" y="450" width="3" height="1"/><rect x="178" y="450" width="5" height="1"/><rect x="186" y="450" width="5" height="1"/><rect x="194" y="450" width="2" height="1"/><rect x="196" y="451" width="3" height="1"/><rect x="202" y="451" width="4" height="1"/><rect x="206" y="452" width="1" height="1"/><rect x="210" y="452" width="1" height="1"/><rect x="211" y="453" width="4" height="1"/><rect x="218" y="454" width="2" height="1"/><rect x="220" y="455" width="3" height="1"/><rect x="226" y="456" width="1" height="1"/><rect x="227" y="457" width="4" height="1"/><rect x="234" y="457" width="1" height="1"/><rect x="235" y="458" width="4" height="1"/><rect x="242" y="458" width="4" height="1"/><rect x="246" y="459" width="1" height="1"/><rect x="250" y="459" width="5" height="1"/><rect x="258" y="459" width="5" height="1"/><rect x="266" y="460" width="5" height="1"/><rect x="274" y="460" width="5" height="1"/><rect x="282" y="460" width="2" height="1"/><rect x="284" y="461" width="3" height="1"/><rect x="290" y="461" width="5" height="1"/><rect x="298" y="461" width="5" height="1"/><rect x="306" y="462" width="5" height="1"/><rect x="314" y="462" width="5" height="1"/><rect x="322" y="463" width="5" height="1"/><rect x="330" y="463" width="1" height="1"/><rect x="331" y="464" width="4" height="1"/><rect x="338" y="464" width="5" height="1"/><rect x="346" y="465" width="1" height="1"/><rect x="347" y="464" width="4" height="1"/><rect x="354" y="464" width="5" height="1"/><rect x="362" y="464" width="5" height="1"/><rect x="370" y="463" width="3" height="1"/><rect x="373" y="462" width="2" height="1"/><rect x="378" y="461" width="5" height="1"/><rect x="386" y="460" width="3" height="1"/><rect x="389" y="459" width="2" height="1"/><rect x="394" y="458" width="3" height="1"/><rect x="397" y="457" width="2" height="1"/><rect x="402" y="456" width="2" height="1"/><rect x="404" y="455" width="3" height="1"/><rect x="410" y="454" width="2" height="1"/><rect x="412" y="453" width="3" height="1"/><rect x="418" y="452" width="1" height="1"/><rect x="419" y="451" width="4" height="1"/><rect x="426" y="450" width="4" height="1"/><rect x="430" y="449" width="1" height="1"/><rect x="434" y="449" width="2" height="1"/><rect x="436" y="448" width="3" height="1"/><rect x="442" y="447" width="5" height="1"/><rect x="450" y="447" width="5" height="1"/><rect x="458" y="447" width="5" height="1"/><rect x="466" y="447" width="5" height="1"/><rect x="474" y="448" width="5" height="1"/><rect x="482" y="448" width="1" height="1"/><rect x="483" y="449" width="4" height="1"/><rect x="490" y="450" width="2" height="1"/><rect x="492" y="451" width="3" height="1"/><rect x="498" y="452" width="1" height="1"/><rect x="499" y="453" width="3" height="1"/><rect x="502" y="454" width="1" height="1"/><rect x="506" y="455" width="2" height="1"/><rect x="508" y="456" width="3" height="1"/><rect x="514" y="457" width="2" height="1"/><rect x="516" y="458" width="3" height="1"/><rect x="522" y="459" width="3" height="1"/><rect x="525" y="460" width="2" height="1"/><rect x="530" y="461" width="2" height="1"/><rect x="532" y="462" width="3" height="1"/><rect x="538" y="463" width="1" height="1"/><rect x="539" y="464" width="4" height="1"/><rect x="546" y="465" width="1" height="1"/><rect x="547" y="466" width="4" height="1"/><rect x="554" y="466" width="5" height="1"/><rect x="562" y="467" width="5" height="1"/><rect x="570" y="467" width="5" height="1"/><rect x="578" y="468" width="4" height="1"/><rect x="582" y="469" width="1" height="1"/><rect x="586" y="469" width="2" height="1"/><rect x="588" y="470" width="3" height="1"/><rect x="594" y="470" width="5" height="1"/><rect x="602" y="470" width="5" height="1"/><rect x="610" y="471" width="2" height="1"/><rect x="612" y="472" width="3" height="1"/><rect x="618" y="473" width="2" height="1"/><rect x="620" y="474" width="3" height="1"/><rect x="626" y="475" width="1" height="1"/><rect x="627" y="476" width="4" height="1"/><rect x="634" y="478" width="5" height="1"/><rect x="642" y="479" width="5" height="1"/><rect x="650" y="480" width="5" height="1"/><rect x="658" y="480" width="5" height="1"/><rect x="666" y="480" width="3" height="1"/><rect x="669" y="481" width="2" height="1"/><rect x="674" y="483" width="3" height="1"/><rect x="677" y="484" width="2" height="1"/><rect x="682" y="485" width="1" height="1"/><rect x="683" y="486" width="2" height="1"/><rect x="685" y="487" width="2" height="1"/><rect x="690" y="489" width="1" height="1"/><rect x="691" y="490" width="2" height="1"/><rect x="693" y="491" width="2" height="1"/><rect x="698" y="495" width="1" height="1"/><rect x="699" y="496" width="1" height="1"/><rect x="700" y="497" width="1" height="1"/><rect x="701" y="498" width="1" height="1"/><rect x="702" y="499" width="1" height="1"/><rect x="706" y="503" width="1" height="1"/><rect x="707" y="504" width="1" height="1"/><rect x="708" y="505" width="1" height="1"/><rect x="709" y="506" width="1" height="1"/><rect x="710" y="507" width="1" height="1"/><rect x="714" y="511" width="1" height="1"/><rect x="715" y="512" width="1" height="1"/><rect x="716" y="513" width="1" height="1"/><rect x="717" y="514" width="1" height="1"/><rect x="718" y="515" width="1" height="1"/><rect x="722" y="519" width="1" height="1"/><rect x="723" y="520" width="1" height="1"/><rect x="724" y="521" width="1" height="1"/><rect x="725" y="522" width="1" height="1"/><rect x="726" y="523" width="1" height="1"/><rect x="730" y="527" width="1" height="1"/><rect x="731" y="528" width="1" height="1"/><rect x="732" y="529" width="1" height="1"/><rect x="733" y="530" width="1" height="1"/><rect x="734" y="531" width="1" height="1"/><rect x="738" y="535" width="1" height="1"/><rect x="739" y="536" width="1" height="1"/><rect x="740" y="537" width="1" height="1"/><rect x="741" y="538" width="2" height="1"/><rect x="746" y="542" width="1" height="1"/><rect x="747" y="543" width="1" height="1"/><rect x="748" y="544" width="3" height="1"/><rect x="754" y="546" width="1" height="1"/><rect x="755" y="547" width="3" height="1"/><rect x="758" y="548" width="1" height="1"/><rect x="762" y="549" width="5" height="1"/><rect x="770" y="550" width="5" height="1"/><rect x="778" y="550" width="3" height="1"/><rect x="781" y="549" width="2" height="1"/><rect x="786" y="548" width="1" height="1"/><rect x="787" y="547" width="2" height="1"/><rect x="789" y="546" width="2" height="1"/><rect x="794" y="544" width="1" height="1"/><rect x="795" y="543" width="2" height="1"/><rect x="797" y="542" width="2" height="1"/><rect x="802" y="539" width="1" height="1"/><rect x="803" y="538" width="2" height="1"/><rect x="805" y="537" width="1" height="1"/><rect x="806" y="536" width="1" height="1"/><rect x="810" y="534" width="1" height="1"/><rect x="811" y="533" width="1" height="1"/><rect x="812" y="532" width="2" height="1"/><rect x="814" y="531" width="1" height="1"/><rect x="818" y="528" width="1" height="1"/><rect x="819" y="527" width="1" height="1"/><rect x="820" y="526" width="2" height="1"/><rect x="822" y="525" width="1" height="1"/><rect x="826" y="522" width="1" height="1"/><rect x="827" y="521" width="2" height="1"/><rect x="829" y="520" width="2" height="1"/><rect x="834" y="518" width="2" height="1"/><rect x="836" y="517" width="2" height="1"/><rect x="838" y="516" width="1" height="1"/><rect x="842" y="515" width="5" height="1"/><rect x="850" y="514" width="5" height="1"/><rect x="858" y="514" width="5" height="1"/><rect x="866" y="514" width="5" height="1"/><rect x="874" y="514" width="5" height="1"/><rect x="882" y="514" width="5" height="1"/><rect x="890" y="514" width="5" height="1"/><rect x="898" y="514" width="3" height="1"/><rect x="901" y="513" width="2" height="1"/><rect x="906" y="513" width="5" height="1"/><rect x="914" y="513" width="5" height="1"/><rect x="922" y="513" width="5" height="1"/><rect x="930" y="513" width="5" height="1"/><rect x="938" y="514" width="5" height="1"/><rect x="946" y="515" width="3" height="1"/><rect x="949" y="516" width="2" height="1"/><rect x="954" y="517" width="1" height="1"/><rect x="955" y="518" width="3" height="1"/><rect x="958" y="519" width="1" height="1"/><rect x="962" y="520" width="2" height="1"/><rect x="964" y="521" width="3" height="1"/><rect x="970" y="523" width="5" height="1"/><rect x="978" y="523" width="5" height="1"/><rect x="986" y="524" width="3" height="1"/><rect x="989" y="523" width="2" height="1"/><rect x="994" y="523" width="1" height="1"/><rect x="995" y="522" width="4" height="1"/><rect x="1002" y="520" width="1" height="1"/><rect x="1003" y="519" width="2" height="1"/><rect x="1005" y="518" width="2" height="1"/><rect x="1010" y="516" width="1" height="1"/><rect x="1011" y="515" width="2" height="1"/><rect x="1013" y="514" width="1" height="1"/><rect x="1014" y="513" width="1" height="1"/><rect x="1018" y="510" width="2" height="1"/><rect x="1020" y="509" width="1" height="1"/><rect x="1021" y="508" width="1" height="1"/><rect x="1022" y="507" width="1" height="1"/><rect x="1026" y="504" width="1" height="1"/><rect x="1027" y="503" width="2" height="1"/><rect x="1029" y="502" width="1" height="1"/><rect x="1030" y="501" width="1" height="1"/><rect x="1034" y="497" width="1" height="1"/><rect x="1035" y="496" width="2" height="1"/><rect x="1037" y="495" width="1" height="1"/><rect x="1038" y="494" width="1" height="1"/><rect x="1042" y="490" width="1" height="1"/><rect x="1043" y="489" width="1" height="1"/><rect x="1044" y="488" width="1" height="1"/><rect x="1045" y="487" width="1" height="1"/><rect x="1046" y="486" width="1" height="1"/><rect x="1050" y="483" width="1" height="1"/><rect x="1051" y="482" width="1" height="1"/><rect x="1052" y="481" width="1" height="1"/><rect x="1053" y="480" width="1" height="1"/><rect x="1054" y="479" width="1" height="1"/><rect x="1058" y="475" width="1" height="1"/><rect x="1059" y="474" width="1" height="1"/><rect x="1060" y="473" width="1" height="1"/><rect x="1061" y="472" width="1" height="1"/><rect x="1062" y="471" width="1" height="1"/><rect x="1066" y="468" width="1" height="1"/><rect x="1067" y="467" width="1" height="1"/><rect x="1068" y="466" width="1" height="1"/><rect x="1069" y="465" width="1" height="1"/><rect x="1070" y="464" width="1" height="1"/><rect x="1074" y="461" width="1" height="1"/><rect x="1075" y="460" width="1" height="1"/><rect x="1076" y="459" width="1" height="1"/><rect x="1077" y="458" width="1" height="1"/><rect x="1078" y="457" width="1" height="1"/><rect x="1082" y="454" width="1" height="1"/><rect x="1083" y="453" width="1" height="1"/><rect x="1084" y="452" width="1" height="1"/><rect x="1085" y="451" width="1" height="1"/><rect x="1086" y="450" width="1" height="1"/><rect x="1090" y="447" width="1" height="1"/><rect x="1091" y="446" width="2" height="1"/><rect x="1093" y="445" width="1" height="1"/><rect x="1094" y="444" width="1" height="1"/><rect x="1098" y="441" width="1" height="1"/><rect x="1099" y="440" width="1" height="1"/><rect x="1100" y="439" width="1" height="1"/><rect x="1101" y="438" width="2" height="1"/><rect x="1106" y="435" width="1" height="1"/><rect x="1107" y="434" width="1" height="1"/><rect x="1108" y="433" width="2" height="1"/><rect x="1110" y="432" width="1" height="1"/><rect x="1114" y="429" width="2" height="1"/><rect x="1116" y="428" width="2" height="1"/><rect x="1118" y="427" width="1" height="1"/><rect x="1122" y="425" width="2" height="1"/><rect x="1124" y="424" width="2" height="1"/><rect x="1126" y="423" width="1" height="1"/><rect x="1130" y="421" width="3" height="1"/><rect x="1133" y="420" width="2" height="1"/><rect x="1138" y="418" width="4" height="1"/><rect x="1142" y="417" width="1" height="1"/><rect x="1146" y="417" width="5" height="1"/><rect x="1154" y="417" width="5" height="1"/><rect x="1162" y="419" width="3" height="1"/><rect x="1165" y="420" width="2" height="1"/><rect x="1170" y="421" width="1" height="1"/><rect x="1171" y="422" width="2" height="1"/><rect x="1173" y="423" width="2" height="1"/><rect x="1178" y="425" width="3" height="1"/></g>
</g>
<rect x="1200" y="406" width="2" height="1" fill="#000000"/>
<text x="1203" y="415" font-size="9.5" fill="#000" stroke="#000" stroke-width="0.3" textLength="32" lengthAdjust="spacingAndGlyphs">23.9013</text>
<rect x="1200" y="490" width="2" height="1" fill="#000000"/>
<text x="1203" y="495" font-size="9.5" fill="#000" stroke="#000" stroke-width="0.3" textLength="17" lengthAdjust="spacingAndGlyphs">0.00</text>
<text x="1203" y="564" font-size="9.5" fill="#000" stroke="#000" stroke-width="0.3" textLength="35" lengthAdjust="spacingAndGlyphs">-21.4936</text>
<rect x="1200" y="566" width="2" height="1" fill="#000000"/>
<rect x="1200" y="571" width="2" height="1" fill="#000000"/>
<rect x="1200" y="676" width="1" height="1" fill="#000000"/>
<text x="8" y="417" font-size="9.5" fill="#000" stroke="#000" stroke-width="0.3" textLength="65" lengthAdjust="spacingAndGlyphs">MACD(12,26,9)</text>
<text x="78" y="417" font-size="9.5" fill="#000" stroke="#000" stroke-width="0.3" textLength="31" lengthAdjust="spacingAndGlyphs">12.0736</text>
<text x="113" y="417" font-size="9.5" fill="#000" stroke="#000" stroke-width="0.3" textLength="32" lengthAdjust="spacingAndGlyphs">18.0573</text>
<rect x="5" y="602" width="3" height="1" fill="#c0c0c0"/>
<rect x="11" y="602" width="3" height="1" fill="#c0c0c0"/>
<rect x="17" y="602" width="3" height="1" fill="#c0c0c0"/>
<rect x="23" y="602" width="3" height="1" fill="#c0c0c0"/>
<rect x="29" y="602" width="3" height="1" fill="#c0c0c0"/>
<rect x="35" y="602" width="3" height="1" fill="#c0c0c0"/>
<rect x="41" y="602" width="3" height="1" fill="#c0c0c0"/>
<rect x="47" y="602" width="3" height="1" fill="#c0c0c0"/>
<rect x="53" y="602" width="3" height="1" fill="#c0c0c0"/>
<rect x="59" y="602" width="3" height="1" fill="#c0c0c0"/>
<rect x="65" y="602" width="3" height="1" fill="#c0c0c0"/>
<rect x="71" y="602" width="3" height="1" fill="#c0c0c0"/>
<rect x="77" y="602" width="3" height="1" fill="#c0c0c0"/>
<rect x="83" y="602" width="3" height="1" fill="#c0c0c0"/>
<rect x="89" y="602" width="3" height="1" fill="#c0c0c0"/>
<rect x="95" y="602" width="3" height="1" fill="#c0c0c0"/>
<rect x="101" y="602" width="3" height="1" fill="#c0c0c0"/>
<rect x="107" y="602" width="3" height="1" fill="#c0c0c0"/>
<rect x="113" y="602" width="3" height="1" fill="#c0c0c0"/>
<rect x="119" y="602" width="3" height="1" fill="#c0c0c0"/>
<rect x="125" y="602" width="3" height="1" fill="#c0c0c0"/>
<rect x="131" y="602" width="3" height="1" fill="#c0c0c0"/>
<rect x="137" y="602" width="3" height="1" fill="#c0c0c0"/>
<rect x="143" y="602" width="3" height="1" fill="#c0c0c0"/>
<rect x="149" y="602" width="3" height="1" fill="#c0c0c0"/>
<rect x="155" y="602" width="3" height="1" fill="#c0c0c0"/>
<rect x="161" y="602" width="3" height="1" fill="#c0c0c0"/>
<rect x="167" y="602" width="3" height="1" fill="#c0c0c0"/>
<rect x="173" y="602" width="3" height="1" fill="#c0c0c0"/>
<rect x="179" y="602" width="3" height="1" fill="#c0c0c0"/>
<rect x="185" y="602" width="3" height="1" fill="#c0c0c0"/>
<rect x="191" y="602" width="3" height="1" fill="#c0c0c0"/>
<rect x="197" y="602" width="3" height="1" fill="#c0c0c0"/>
<rect x="203" y="602" width="3" height="1" fill="#c0c0c0"/>
<rect x="209" y="602" width="3" height="1" fill="#c0c0c0"/>
<rect x="215" y="602" width="3" height="1" fill="#c0c0c0"/>
<rect x="221" y="602" width="3" height="1" fill="#c0c0c0"/>
<rect x="227" y="602" width="3" height="1" fill="#c0c0c0"/>
<rect x="233" y="602" width="3" height="1" fill="#c0c0c0"/>
<rect x="239" y="602" width="3" height="1" fill="#c0c0c0"/>
<rect x="245" y="602" width="3" height="1" fill="#c0c0c0"/>
<rect x="251" y="602" width="3" height="1" fill="#c0c0c0"/>
<rect x="257" y="602" width="3" height="1" fill="#c0c0c0"/>
<rect x="263" y="602" width="3" height="1" fill="#c0c0c0"/>
<rect x="269" y="602" width="3" height="1" fill="#c0c0c0"/>
<rect x="275" y="602" width="3" height="1" fill="#c0c0c0"/>
<rect x="281" y="602" width="3" height="1" fill="#c0c0c0"/>
<rect x="287" y="602" width="3" height="1" fill="#c0c0c0"/>
<rect x="293" y="602" width="3" height="1" fill="#c0c0c0"/>
<rect x="299" y="602" width="3" height="1" fill="#c0c0c0"/>
<rect x="305" y="602" width="3" height="1" fill="#c0c0c0"/>
<rect x="311" y="602" width="3" height="1" fill="#c0c0c0"/>
<rect x="317" y="602" width="3" height="1" fill="#c0c0c0"/>
<rect x="323" y="602" width="3" height="1" fill="#c0c0c0"/>
<rect x="329" y="602" width="3" height="1" fill="#c0c0c0"/>
<rect x="335" y="602" width="3" height="1" fill="#c0c0c0"/>
<rect x="341" y="602" width="3" height="1" fill="#c0c0c0"/>
<rect x="347" y="602" width="3" height="1" fill="#c0c0c0"/>
<rect x="353" y="602" width="3" height="1" fill="#c0c0c0"/>
<rect x="359" y="602" width="3" height="1" fill="#c0c0c0"/>
<rect x="365" y="602" width="3" height="1" fill="#c0c0c0"/>
<rect x="371" y="602" width="3" height="1" fill="#c0c0c0"/>
<rect x="377" y="602" width="3" height="1" fill="#c0c0c0"/>
<rect x="383" y="602" width="3" height="1" fill="#c0c0c0"/>
<rect x="389" y="602" width="3" height="1" fill="#c0c0c0"/>
<rect x="395" y="602" width="3" height="1" fill="#c0c0c0"/>
<rect x="401" y="602" width="3" height="1" fill="#c0c0c0"/>
<rect x="407" y="602" width="3" height="1" fill="#c0c0c0"/>
<rect x="413" y="602" width="3" height="1" fill="#c0c0c0"/>
<rect x="419" y="602" width="3" height="1" fill="#c0c0c0"/>
<rect x="425" y="602" width="3" height="1" fill="#c0c0c0"/>
<rect x="431" y="602" width="3" height="1" fill="#c0c0c0"/>
<rect x="437" y="602" width="3" height="1" fill="#c0c0c0"/>
<rect x="443" y="602" width="3" height="1" fill="#c0c0c0"/>
<rect x="449" y="602" width="3" height="1" fill="#c0c0c0"/>
<rect x="455" y="602" width="3" height="1" fill="#c0c0c0"/>
<rect x="461" y="602" width="3" height="1" fill="#c0c0c0"/>
<rect x="467" y="602" width="3" height="1" fill="#c0c0c0"/>
<rect x="473" y="602" width="3" height="1" fill="#c0c0c0"/>
<rect x="479" y="602" width="3" height="1" fill="#c0c0c0"/>
<rect x="485" y="602" width="3" height="1" fill="#c0c0c0"/>
<rect x="491" y="602" width="3" height="1" fill="#c0c0c0"/>
<rect x="497" y="602" width="3" height="1" fill="#c0c0c0"/>
<rect x="503" y="602" width="3" height="1" fill="#c0c0c0"/>
<rect x="509" y="602" width="3" height="1" fill="#c0c0c0"/>
<rect x="515" y="602" width="3" height="1" fill="#c0c0c0"/>
<rect x="521" y="602" width="3" height="1" fill="#c0c0c0"/>
<rect x="527" y="602" width="3" height="1" fill="#c0c0c0"/>
<rect x="533" y="602" width="3" height="1" fill="#c0c0c0"/>
<rect x="539" y="602" width="3" height="1" fill="#c0c0c0"/>
<rect x="545" y="602" width="3" height="1" fill="#c0c0c0"/>
<rect x="551" y="602" width="3" height="1" fill="#c0c0c0"/>
<rect x="557" y="602" width="3" height="1" fill="#c0c0c0"/>
<rect x="563" y="602" width="3" height="1" fill="#c0c0c0"/>
<rect x="569" y="602" width="3" height="1" fill="#c0c0c0"/>
<rect x="575" y="602" width="3" height="1" fill="#c0c0c0"/>
<rect x="581" y="602" width="3" height="1" fill="#c0c0c0"/>
<rect x="587" y="602" width="3" height="1" fill="#c0c0c0"/>
<rect x="593" y="602" width="3" height="1" fill="#c0c0c0"/>
<rect x="599" y="602" width="3" height="1" fill="#c0c0c0"/>
<rect x="605" y="602" width="3" height="1" fill="#c0c0c0"/>
<rect x="611" y="602" width="3" height="1" fill="#c0c0c0"/>
<rect x="617" y="602" width="3" height="1" fill="#c0c0c0"/>
<rect x="623" y="602" width="3" height="1" fill="#c0c0c0"/>
<rect x="629" y="602" width="3" height="1" fill="#c0c0c0"/>
<rect x="635" y="602" width="3" height="1" fill="#c0c0c0"/>
<rect x="641" y="602" width="3" height="1" fill="#c0c0c0"/>
<rect x="647" y="602" width="3" height="1" fill="#c0c0c0"/>
<rect x="653" y="602" width="3" height="1" fill="#c0c0c0"/>
<rect x="659" y="602" width="3" height="1" fill="#c0c0c0"/>
<rect x="665" y="602" width="3" height="1" fill="#c0c0c0"/>
<rect x="671" y="602" width="3" height="1" fill="#c0c0c0"/>
<rect x="677" y="602" width="3" height="1" fill="#c0c0c0"/>
<rect x="683" y="602" width="3" height="1" fill="#c0c0c0"/>
<rect x="689" y="602" width="3" height="1" fill="#c0c0c0"/>
<rect x="695" y="602" width="3" height="1" fill="#c0c0c0"/>
<rect x="701" y="602" width="3" height="1" fill="#c0c0c0"/>
<rect x="707" y="602" width="3" height="1" fill="#c0c0c0"/>
<rect x="713" y="602" width="3" height="1" fill="#c0c0c0"/>
<rect x="719" y="602" width="3" height="1" fill="#c0c0c0"/>
<rect x="725" y="602" width="3" height="1" fill="#c0c0c0"/>
<rect x="731" y="602" width="3" height="1" fill="#c0c0c0"/>
<rect x="737" y="602" width="3" height="1" fill="#c0c0c0"/>
<rect x="743" y="602" width="3" height="1" fill="#c0c0c0"/>
<rect x="749" y="602" width="3" height="1" fill="#c0c0c0"/>
<rect x="755" y="602" width="3" height="1" fill="#c0c0c0"/>
<rect x="761" y="602" width="3" height="1" fill="#c0c0c0"/>
<rect x="767" y="602" width="3" height="1" fill="#c0c0c0"/>
<rect x="773" y="602" width="3" height="1" fill="#c0c0c0"/>
<rect x="779" y="602" width="3" height="1" fill="#c0c0c0"/>
<rect x="785" y="602" width="3" height="1" fill="#c0c0c0"/>
<rect x="791" y="602" width="3" height="1" fill="#c0c0c0"/>
<rect x="797" y="602" width="3" height="1" fill="#c0c0c0"/>
<rect x="803" y="602" width="3" height="1" fill="#c0c0c0"/>
<rect x="809" y="602" width="3" height="1" fill="#c0c0c0"/>
<rect x="815" y="602" width="3" height="1" fill="#c0c0c0"/>
<rect x="821" y="602" width="3" height="1" fill="#c0c0c0"/>
<rect x="827" y="602" width="3" height="1" fill="#c0c0c0"/>
<rect x="833" y="602" width="3" height="1" fill="#c0c0c0"/>
<rect x="839" y="602" width="3" height="1" fill="#c0c0c0"/>
<rect x="845" y="602" width="3" height="1" fill="#c0c0c0"/>
<rect x="851" y="602" width="3" height="1" fill="#c0c0c0"/>
<rect x="857" y="602" width="3" height="1" fill="#c0c0c0"/>
<rect x="863" y="602" width="3" height="1" fill="#c0c0c0"/>
<rect x="869" y="602" width="3" height="1" fill="#c0c0c0"/>
<rect x="875" y="602" width="3" height="1" fill="#c0c0c0"/>
<rect x="881" y="602" width="3" height="1" fill="#c0c0c0"/>
<rect x="887" y="602" width="3" height="1" fill="#c0c0c0"/>
<rect x="893" y="602" width="3" height="1" fill="#c0c0c0"/>
<rect x="899" y="602" width="3" height="1" fill="#c0c0c0"/>
<rect x="905" y="602" width="3" height="1" fill="#c0c0c0"/>
<rect x="911" y="602" width="3" height="1" fill="#c0c0c0"/>
<rect x="917" y="602" width="3" height="1" fill="#c0c0c0"/>
<rect x="923" y="602" width="3" height="1" fill="#c0c0c0"/>
<rect x="929" y="602" width="3" height="1" fill="#c0c0c0"/>
<rect x="935" y="602" width="3" height="1" fill="#c0c0c0"/>
<rect x="941" y="602" width="3" height="1" fill="#c0c0c0"/>
<rect x="947" y="602" width="3" height="1" fill="#c0c0c0"/>
<rect x="953" y="602" width="3" height="1" fill="#c0c0c0"/>
<rect x="959" y="602" width="3" height="1" fill="#c0c0c0"/>
<rect x="965" y="602" width="3" height="1" fill="#c0c0c0"/>
<rect x="971" y="602" width="3" height="1" fill="#c0c0c0"/>
<rect x="977" y="602" width="3" height="1" fill="#c0c0c0"/>
<rect x="983" y="602" width="3" height="1" fill="#c0c0c0"/>
<rect x="989" y="602" width="3" height="1" fill="#c0c0c0"/>
<rect x="995" y="602" width="3" height="1" fill="#c0c0c0"/>
<rect x="1001" y="602" width="3" height="1" fill="#c0c0c0"/>
<rect x="1007" y="602" width="3" height="1" fill="#c0c0c0"/>
<rect x="1013" y="602" width="3" height="1" fill="#c0c0c0"/>
<rect x="1019" y="602" width="3" height="1" fill="#c0c0c0"/>
<rect x="1025" y="602" width="3" height="1" fill="#c0c0c0"/>
<rect x="1031" y="602" width="3" height="1" fill="#c0c0c0"/>
<rect x="1037" y="602" width="3" height="1" fill="#c0c0c0"/>
<rect x="1043" y="602" width="3" height="1" fill="#c0c0c0"/>
<rect x="1049" y="602" width="3" height="1" fill="#c0c0c0"/>
<rect x="1055" y="602" width="3" height="1" fill="#c0c0c0"/>
<rect x="1061" y="602" width="3" height="1" fill="#c0c0c0"/>
<rect x="1067" y="602" width="3" height="1" fill="#c0c0c0"/>
<rect x="1073" y="602" width="3" height="1" fill="#c0c0c0"/>
<rect x="1079" y="602" width="3" height="1" fill="#c0c0c0"/>
<rect x="1085" y="602" width="3" height="1" fill="#c0c0c0"/>
<rect x="1091" y="602" width="3" height="1" fill="#c0c0c0"/>
<rect x="1097" y="602" width="3" height="1" fill="#c0c0c0"/>
<rect x="1103" y="602" width="3" height="1" fill="#c0c0c0"/>
<rect x="1109" y="602" width="3" height="1" fill="#c0c0c0"/>
<rect x="1115" y="602" width="3" height="1" fill="#c0c0c0"/>
<rect x="1121" y="602" width="3" height="1" fill="#c0c0c0"/>
<rect x="1127" y="602" width="3" height="1" fill="#c0c0c0"/>
<rect x="1133" y="602" width="3" height="1" fill="#c0c0c0"/>
<rect x="1139" y="602" width="3" height="1" fill="#c0c0c0"/>
<rect x="1145" y="602" width="3" height="1" fill="#c0c0c0"/>
<rect x="1151" y="602" width="3" height="1" fill="#c0c0c0"/>
<rect x="1157" y="602" width="3" height="1" fill="#c0c0c0"/>
<rect x="1163" y="602" width="3" height="1" fill="#c0c0c0"/>
<rect x="1169" y="602" width="3" height="1" fill="#c0c0c0"/>
<rect x="1175" y="602" width="3" height="1" fill="#c0c0c0"/>
<rect x="1181" y="602" width="3" height="1" fill="#c0c0c0"/>
<rect x="1187" y="602" width="3" height="1" fill="#c0c0c0"/>
<rect x="1193" y="602" width="3" height="1" fill="#c0c0c0"/>
<rect x="5" y="645" width="3" height="1" fill="#c0c0c0"/>
<rect x="11" y="645" width="3" height="1" fill="#c0c0c0"/>
<rect x="17" y="645" width="3" height="1" fill="#c0c0c0"/>
<rect x="23" y="645" width="3" height="1" fill="#c0c0c0"/>
<rect x="29" y="645" width="3" height="1" fill="#c0c0c0"/>
<rect x="35" y="645" width="3" height="1" fill="#c0c0c0"/>
<rect x="41" y="645" width="3" height="1" fill="#c0c0c0"/>
<rect x="47" y="645" width="3" height="1" fill="#c0c0c0"/>
<rect x="53" y="645" width="3" height="1" fill="#c0c0c0"/>
<rect x="59" y="645" width="3" height="1" fill="#c0c0c0"/>
<rect x="65" y="645" width="3" height="1" fill="#c0c0c0"/>
<rect x="71" y="645" width="3" height="1" fill="#c0c0c0"/>
<rect x="77" y="645" width="3" height="1" fill="#c0c0c0"/>
<rect x="83" y="645" width="3" height="1" fill="#c0c0c0"/>
<rect x="89" y="645" width="3" height="1" fill="#c0c0c0"/>
<rect x="95" y="645" width="3" height="1" fill="#c0c0c0"/>
<rect x="101" y="645" width="3" height="1" fill="#c0c0c0"/>
<rect x="107" y="645" width="3" height="1" fill="#c0c0c0"/>
<rect x="113" y="645" width="3" height="1" fill="#c0c0c0"/>
<rect x="119" y="645" width="3" height="1" fill="#c0c0c0"/>
<rect x="125" y="645" width="3" height="1" fill="#c0c0c0"/>
<rect x="131" y="645" width="3" height="1" fill="#c0c0c0"/>
<rect x="137" y="645" width="3" height="1" fill="#c0c0c0"/>
<rect x="143" y="645" width="3" height="1" fill="#c0c0c0"/>
<rect x="149" y="645" width="3" height="1" fill="#c0c0c0"/>
<rect x="155" y="645" width="3" height="1" fill="#c0c0c0"/>
<rect x="161" y="645" width="3" height="1" fill="#c0c0c0"/>
<rect x="167" y="645" width="3" height="1" fill="#c0c0c0"/>
<rect x="173" y="645" width="3" height="1" fill="#c0c0c0"/>
<rect x="179" y="645" width="3" height="1" fill="#c0c0c0"/>
<rect x="185" y="645" width="3" height="1" fill="#c0c0c0"/>
<rect x="191" y="645" width="3" height="1" fill="#c0c0c0"/>
<rect x="197" y="645" width="3" height="1" fill="#c0c0c0"/>
<rect x="203" y="645" width="3" height="1" fill="#c0c0c0"/>
<rect x="209" y="645" width="3" height="1" fill="#c0c0c0"/>
<rect x="215" y="645" width="3" height="1" fill="#c0c0c0"/>
<rect x="221" y="645" width="3" height="1" fill="#c0c0c0"/>
<rect x="227" y="645" width="3" height="1" fill="#c0c0c0"/>
<rect x="233" y="645" width="3" height="1" fill="#c0c0c0"/>
<rect x="239" y="645" width="3" height="1" fill="#c0c0c0"/>
<rect x="245" y="645" width="3" height="1" fill="#c0c0c0"/>
<rect x="251" y="645" width="3" height="1" fill="#c0c0c0"/>
<rect x="257" y="645" width="3" height="1" fill="#c0c0c0"/>
<rect x="263" y="645" width="3" height="1" fill="#c0c0c0"/>
<rect x="269" y="645" width="3" height="1" fill="#c0c0c0"/>
<rect x="275" y="645" width="3" height="1" fill="#c0c0c0"/>
<rect x="281" y="645" width="3" height="1" fill="#c0c0c0"/>
<rect x="287" y="645" width="3" height="1" fill="#c0c0c0"/>
<rect x="293" y="645" width="3" height="1" fill="#c0c0c0"/>
<rect x="299" y="645" width="3" height="1" fill="#c0c0c0"/>
<rect x="305" y="645" width="3" height="1" fill="#c0c0c0"/>
<rect x="311" y="645" width="3" height="1" fill="#c0c0c0"/>
<rect x="317" y="645" width="3" height="1" fill="#c0c0c0"/>
<rect x="323" y="645" width="3" height="1" fill="#c0c0c0"/>
<rect x="329" y="645" width="3" height="1" fill="#c0c0c0"/>
<rect x="335" y="645" width="3" height="1" fill="#c0c0c0"/>
<rect x="341" y="645" width="3" height="1" fill="#c0c0c0"/>
<rect x="347" y="645" width="3" height="1" fill="#c0c0c0"/>
<rect x="353" y="645" width="3" height="1" fill="#c0c0c0"/>
<rect x="359" y="645" width="3" height="1" fill="#c0c0c0"/>
<rect x="365" y="645" width="3" height="1" fill="#c0c0c0"/>
<rect x="371" y="645" width="3" height="1" fill="#c0c0c0"/>
<rect x="377" y="645" width="3" height="1" fill="#c0c0c0"/>
<rect x="383" y="645" width="3" height="1" fill="#c0c0c0"/>
<rect x="389" y="645" width="3" height="1" fill="#c0c0c0"/>
<rect x="395" y="645" width="3" height="1" fill="#c0c0c0"/>
<rect x="401" y="645" width="3" height="1" fill="#c0c0c0"/>
<rect x="407" y="645" width="3" height="1" fill="#c0c0c0"/>
<rect x="413" y="645" width="3" height="1" fill="#c0c0c0"/>
<rect x="419" y="645" width="3" height="1" fill="#c0c0c0"/>
<rect x="425" y="645" width="3" height="1" fill="#c0c0c0"/>
<rect x="431" y="645" width="3" height="1" fill="#c0c0c0"/>
<rect x="437" y="645" width="3" height="1" fill="#c0c0c0"/>
<rect x="443" y="645" width="3" height="1" fill="#c0c0c0"/>
<rect x="449" y="645" width="3" height="1" fill="#c0c0c0"/>
<rect x="455" y="645" width="3" height="1" fill="#c0c0c0"/>
<rect x="461" y="645" width="3" height="1" fill="#c0c0c0"/>
<rect x="467" y="645" width="3" height="1" fill="#c0c0c0"/>
<rect x="473" y="645" width="3" height="1" fill="#c0c0c0"/>
<rect x="479" y="645" width="3" height="1" fill="#c0c0c0"/>
<rect x="485" y="645" width="3" height="1" fill="#c0c0c0"/>
<rect x="491" y="645" width="3" height="1" fill="#c0c0c0"/>
<rect x="497" y="645" width="3" height="1" fill="#c0c0c0"/>
<rect x="503" y="645" width="3" height="1" fill="#c0c0c0"/>
<rect x="509" y="645" width="3" height="1" fill="#c0c0c0"/>
<rect x="515" y="645" width="3" height="1" fill="#c0c0c0"/>
<rect x="521" y="645" width="3" height="1" fill="#c0c0c0"/>
<rect x="527" y="645" width="3" height="1" fill="#c0c0c0"/>
<rect x="533" y="645" width="3" height="1" fill="#c0c0c0"/>
<rect x="539" y="645" width="3" height="1" fill="#c0c0c0"/>
<rect x="545" y="645" width="3" height="1" fill="#c0c0c0"/>
<rect x="551" y="645" width="3" height="1" fill="#c0c0c0"/>
<rect x="557" y="645" width="3" height="1" fill="#c0c0c0"/>
<rect x="563" y="645" width="3" height="1" fill="#c0c0c0"/>
<rect x="569" y="645" width="3" height="1" fill="#c0c0c0"/>
<rect x="575" y="645" width="3" height="1" fill="#c0c0c0"/>
<rect x="581" y="645" width="3" height="1" fill="#c0c0c0"/>
<rect x="587" y="645" width="3" height="1" fill="#c0c0c0"/>
<rect x="593" y="645" width="3" height="1" fill="#c0c0c0"/>
<rect x="599" y="645" width="3" height="1" fill="#c0c0c0"/>
<rect x="605" y="645" width="3" height="1" fill="#c0c0c0"/>
<rect x="611" y="645" width="3" height="1" fill="#c0c0c0"/>
<rect x="617" y="645" width="3" height="1" fill="#c0c0c0"/>
<rect x="623" y="645" width="3" height="1" fill="#c0c0c0"/>
<rect x="629" y="645" width="3" height="1" fill="#c0c0c0"/>
<rect x="635" y="645" width="3" height="1" fill="#c0c0c0"/>
<rect x="641" y="645" width="3" height="1" fill="#c0c0c0"/>
<rect x="647" y="645" width="3" height="1" fill="#c0c0c0"/>
<rect x="653" y="645" width="3" height="1" fill="#c0c0c0"/>
<rect x="659" y="645" width="3" height="1" fill="#c0c0c0"/>
<rect x="665" y="645" width="3" height="1" fill="#c0c0c0"/>
<rect x="671" y="645" width="3" height="1" fill="#c0c0c0"/>
<rect x="677" y="645" width="3" height="1" fill="#c0c0c0"/>
<rect x="683" y="645" width="3" height="1" fill="#c0c0c0"/>
<rect x="689" y="645" width="3" height="1" fill="#c0c0c0"/>
<rect x="695" y="645" width="3" height="1" fill="#c0c0c0"/>
<rect x="701" y="645" width="3" height="1" fill="#c0c0c0"/>
<rect x="707" y="645" width="3" height="1" fill="#c0c0c0"/>
<rect x="713" y="645" width="3" height="1" fill="#c0c0c0"/>
<rect x="719" y="645" width="3" height="1" fill="#c0c0c0"/>
<rect x="725" y="645" width="3" height="1" fill="#c0c0c0"/>
<rect x="731" y="645" width="3" height="1" fill="#c0c0c0"/>
<rect x="737" y="645" width="3" height="1" fill="#c0c0c0"/>
<rect x="743" y="645" width="3" height="1" fill="#c0c0c0"/>
<rect x="749" y="645" width="3" height="1" fill="#c0c0c0"/>
<rect x="755" y="645" width="3" height="1" fill="#c0c0c0"/>
<rect x="761" y="645" width="3" height="1" fill="#c0c0c0"/>
<rect x="767" y="645" width="3" height="1" fill="#c0c0c0"/>
<rect x="773" y="645" width="3" height="1" fill="#c0c0c0"/>
<rect x="779" y="645" width="3" height="1" fill="#c0c0c0"/>
<rect x="785" y="645" width="3" height="1" fill="#c0c0c0"/>
<rect x="791" y="645" width="3" height="1" fill="#c0c0c0"/>
<rect x="797" y="645" width="3" height="1" fill="#c0c0c0"/>
<rect x="803" y="645" width="3" height="1" fill="#c0c0c0"/>
<rect x="809" y="645" width="3" height="1" fill="#c0c0c0"/>
<rect x="815" y="645" width="3" height="1" fill="#c0c0c0"/>
<rect x="821" y="645" width="3" height="1" fill="#c0c0c0"/>
<rect x="827" y="645" width="3" height="1" fill="#c0c0c0"/>
<rect x="833" y="645" width="3" height="1" fill="#c0c0c0"/>
<rect x="839" y="645" width="3" height="1" fill="#c0c0c0"/>
<rect x="845" y="645" width="3" height="1" fill="#c0c0c0"/>
<rect x="851" y="645" width="3" height="1" fill="#c0c0c0"/>
<rect x="857" y="645" width="3" height="1" fill="#c0c0c0"/>
<rect x="863" y="645" width="3" height="1" fill="#c0c0c0"/>
<rect x="869" y="645" width="3" height="1" fill="#c0c0c0"/>
<rect x="875" y="645" width="3" height="1" fill="#c0c0c0"/>
<rect x="881" y="645" width="3" height="1" fill="#c0c0c0"/>
<rect x="887" y="645" width="3" height="1" fill="#c0c0c0"/>
<rect x="893" y="645" width="3" height="1" fill="#c0c0c0"/>
<rect x="899" y="645" width="3" height="1" fill="#c0c0c0"/>
<rect x="905" y="645" width="3" height="1" fill="#c0c0c0"/>
<rect x="911" y="645" width="3" height="1" fill="#c0c0c0"/>
<rect x="917" y="645" width="3" height="1" fill="#c0c0c0"/>
<rect x="923" y="645" width="3" height="1" fill="#c0c0c0"/>
<rect x="929" y="645" width="3" height="1" fill="#c0c0c0"/>
<rect x="935" y="645" width="3" height="1" fill="#c0c0c0"/>
<rect x="941" y="645" width="3" height="1" fill="#c0c0c0"/>
<rect x="947" y="645" width="3" height="1" fill="#c0c0c0"/>
<rect x="953" y="645" width="3" height="1" fill="#c0c0c0"/>
<rect x="959" y="645" width="3" height="1" fill="#c0c0c0"/>
<rect x="965" y="645" width="3" height="1" fill="#c0c0c0"/>
<rect x="971" y="645" width="3" height="1" fill="#c0c0c0"/>
<rect x="977" y="645" width="3" height="1" fill="#c0c0c0"/>
<rect x="983" y="645" width="3" height="1" fill="#c0c0c0"/>
<rect x="989" y="645" width="3" height="1" fill="#c0c0c0"/>
<rect x="995" y="645" width="3" height="1" fill="#c0c0c0"/>
<rect x="1001" y="645" width="3" height="1" fill="#c0c0c0"/>
<rect x="1007" y="645" width="3" height="1" fill="#c0c0c0"/>
<rect x="1013" y="645" width="3" height="1" fill="#c0c0c0"/>
<rect x="1019" y="645" width="3" height="1" fill="#c0c0c0"/>
<rect x="1025" y="645" width="3" height="1" fill="#c0c0c0"/>
<rect x="1031" y="645" width="3" height="1" fill="#c0c0c0"/>
<rect x="1037" y="645" width="3" height="1" fill="#c0c0c0"/>
<rect x="1043" y="645" width="3" height="1" fill="#c0c0c0"/>
<rect x="1049" y="645" width="3" height="1" fill="#c0c0c0"/>
<rect x="1055" y="645" width="3" height="1" fill="#c0c0c0"/>
<rect x="1061" y="645" width="3" height="1" fill="#c0c0c0"/>
<rect x="1067" y="645" width="3" height="1" fill="#c0c0c0"/>
<rect x="1073" y="645" width="3" height="1" fill="#c0c0c0"/>
<rect x="1079" y="645" width="3" height="1" fill="#c0c0c0"/>
<rect x="1085" y="645" width="3" height="1" fill="#c0c0c0"/>
<rect x="1091" y="645" width="3" height="1" fill="#c0c0c0"/>
<rect x="1097" y="645" width="3" height="1" fill="#c0c0c0"/>
<rect x="1103" y="645" width="3" height="1" fill="#c0c0c0"/>
<rect x="1109" y="645" width="3" height="1" fill="#c0c0c0"/>
<rect x="1115" y="645" width="3" height="1" fill="#c0c0c0"/>
<rect x="1121" y="645" width="3" height="1" fill="#c0c0c0"/>
<rect x="1127" y="645" width="3" height="1" fill="#c0c0c0"/>
<rect x="1133" y="645" width="3" height="1" fill="#c0c0c0"/>
<rect x="1139" y="645" width="3" height="1" fill="#c0c0c0"/>
<rect x="1145" y="645" width="3" height="1" fill="#c0c0c0"/>
<rect x="1151" y="645" width="3" height="1" fill="#c0c0c0"/>
<rect x="1157" y="645" width="3" height="1" fill="#c0c0c0"/>
<rect x="1163" y="645" width="3" height="1" fill="#c0c0c0"/>
<rect x="1169" y="645" width="3" height="1" fill="#c0c0c0"/>
<rect x="1175" y="645" width="3" height="1" fill="#c0c0c0"/>
<rect x="1181" y="645" width="3" height="1" fill="#c0c0c0"/>
<rect x="1187" y="645" width="3" height="1" fill="#c0c0c0"/>
<rect x="1193" y="645" width="3" height="1" fill="#c0c0c0"/>
<g clip-path="url(#rsi)">
<polyline points="4.0,617.6 12.0,618.3 20.0,619.5 28.0,621.9 36.0,638.7 44.0,626.7 52.0,625.0 60.0,620.7 68.0,620.3 76.0,612.4 84.0,612.4 92.0,611.9 100.0,609.2 108.0,609.2 116.0,608.3 124.0,608.3 132.0,606.4 140.0,604.4 148.0,604.4 156.0,604.4 164.0,607.6 172.0,615.5 180.0,620.3 188.0,618.8 196.0,615.5 204.0,615.5 212.0,616.7 220.0,613.5 228.0,609.2 236.0,604.4 244.0,609.2 252.0,612.4 260.0,611.2 268.0,614.3 276.0,613.5 284.0,619.1 292.0,617.9 300.0,614.7 308.0,613.1 316.0,606.8 324.0,612.4 332.0,609.5 340.0,610.4 348.0,608.0 356.0,604.4 364.0,605.2 372.0,603.2 380.0,597.5 388.0,599.2 396.0,598.0 404.0,596.3 412.0,598.0 420.0,597.5 428.0,599.2 436.0,597.5 444.0,599.2 452.0,604.7 460.0,605.2 468.0,605.2 476.0,603.2 484.0,606.8 492.0,623.1 500.0,619.1 508.0,619.1 516.0,615.5 524.0,612.4 532.0,615.5 540.0,604.4 548.0,605.2 556.0,606.4 564.0,608.3 572.0,613.1 580.0,628.6 588.0,627.4 596.0,623.9 604.0,622.4 612.0,630.8 620.0,618.8 628.0,614.7 636.0,617.6 644.0,616.4 652.0,612.4 660.0,625.5 668.0,639.2 676.0,639.2 684.0,650.2 692.0,646.4 700.0,647.6 708.0,651.2 716.0,651.2 724.0,648.8 732.0,649.5 740.0,647.6 748.0,638.2 756.0,640.4 764.0,629.1 772.0,625.1 780.0,627.2 788.0,620.7 796.0,623.6 804.0,620.7 812.0,623.6 820.0,623.6 828.0,629.1 836.0,637.0 844.0,640.4 852.0,637.5 860.0,640.4 868.0,627.2 876.0,617.6 884.0,616.4 892.0,620.3 900.0,623.9 908.0,633.9 916.0,637.5 924.0,639.2 932.0,637.0 940.0,631.5 948.0,631.5 956.0,633.2 964.0,625.5 972.0,627.4 980.0,631.0 988.0,622.4 996.0,619.5 1004.0,616.4 1012.0,611.9 1020.0,609.5 1028.0,613.5 1036.0,613.5 1044.0,614.3 1052.0,605.2 1060.0,605.2 1068.0,603.2 1076.0,602.0 1084.0,599.2 1092.0,598.0 1100.0,599.7 1108.0,605.9 1116.0,604.7 1124.0,603.2 1132.0,607.1 1140.0,608.8 1148.0,613.1 1156.0,613.5 1164.0,617.1 1172.0,618.3 1180.0,621.2" fill="none" stroke="#1e90ff" stroke-width="1"/>
</g>
<rect x="1200" y="602" width="1" height="1" fill="#000000"/>
<rect x="1200" y="645" width="1" height="1" fill="#000000"/>
<text x="1203" y="581" font-size="9.5" fill="#000" stroke="#000" stroke-width="0.3" textLength="14" lengthAdjust="spacingAndGlyphs">100</text>
<text x="1202" y="607" font-size="9.5" fill="#000" stroke="#000" stroke-width="0.3" textLength="10" lengthAdjust="spacingAndGlyphs">70</text>
<text x="1202" y="650" font-size="9.5" fill="#000" stroke="#000" stroke-width="0.3" textLength="10" lengthAdjust="spacingAndGlyphs">30</text>
<text x="1203" y="675" font-size="9.5" fill="#000" stroke="#000" stroke-width="0.3" textLength="5" lengthAdjust="spacingAndGlyphs">0</text>
<text x="8" y="582" font-size="9.5" fill="#000" stroke="#000" stroke-width="0.3" textLength="31" lengthAdjust="spacingAndGlyphs">RSI(14)</text>
<text x="43" y="582" font-size="9.5" fill="#000" stroke="#000" stroke-width="0.3" textLength="32" lengthAdjust="spacingAndGlyphs">52.4435</text>
<rect x="4" y="678" width="1" height="3" fill="#000000"/>
<text x="3" y="690" font-size="9.5" fill="#000" stroke="#000" stroke-width="0.3" textLength="44" lengthAdjust="spacingAndGlyphs">7 <tspan font-family="Liberation Sans">J</tspan>an 2020</text>
<rect x="68" y="678" width="1" height="3" fill="#000000"/>
<text x="67" y="690" font-size="9.5" fill="#000" stroke="#000" stroke-width="0.3" textLength="47" lengthAdjust="spacingAndGlyphs">8 <tspan font-family="Liberation Sans">J</tspan>an 12:00</text>
<rect x="132" y="678" width="1" height="3" fill="#000000"/>
<text x="131" y="690" font-size="9.5" fill="#000" stroke="#000" stroke-width="0.3" textLength="47" lengthAdjust="spacingAndGlyphs">9 <tspan font-family="Liberation Sans">J</tspan>an 20:00</text>
<rect x="196" y="678" width="1" height="3" fill="#000000"/>
<text x="195" y="690" font-size="9.5" fill="#000" stroke="#000" stroke-width="0.3" textLength="52" lengthAdjust="spacingAndGlyphs">13 <tspan font-family="Liberation Sans">J</tspan>an 00:00</text>
<rect x="260" y="678" width="1" height="3" fill="#000000"/>
<text x="259" y="690" font-size="9.5" fill="#000" stroke="#000" stroke-width="0.3" textLength="52" lengthAdjust="spacingAndGlyphs">14 <tspan font-family="Liberation Sans">J</tspan>an 08:00</text>
<rect x="324" y="678" width="1" height="3" fill="#000000"/>
<text x="323" y="690" font-size="9.5" fill="#000" stroke="#000" stroke-width="0.3" textLength="52" lengthAdjust="spacingAndGlyphs">15 <tspan font-family="Liberation Sans">J</tspan>an 16:00</text>
<rect x="388" y="678" width="1" height="3" fill="#000000"/>
<text x="387" y="690" font-size="9.5" fill="#000" stroke="#000" stroke-width="0.3" textLength="52" lengthAdjust="spacingAndGlyphs">17 <tspan font-family="Liberation Sans">J</tspan>an 00:00</text>
<rect x="452" y="678" width="1" height="3" fill="#000000"/>
<text x="451" y="690" font-size="9.5" fill="#000" stroke="#000" stroke-width="0.3" textLength="52" lengthAdjust="spacingAndGlyphs">20 <tspan font-family="Liberation Sans">J</tspan>an 04:00</text>
<rect x="516" y="678" width="1" height="3" fill="#000000"/>
<text x="515" y="690" font-size="9.5" fill="#000" stroke="#000" stroke-width="0.3" textLength="52" lengthAdjust="spacingAndGlyphs">21 <tspan font-family="Liberation Sans">J</tspan>an 12:00</text>
<rect x="580" y="678" width="1" height="3" fill="#000000"/>
<text x="579" y="690" font-size="9.5" fill="#000" stroke="#000" stroke-width="0.3" textLength="52" lengthAdjust="spacingAndGlyphs">22 <tspan font-family="Liberation Sans">J</tspan>an 20:00</text>
<rect x="644" y="678" width="1" height="3" fill="#000000"/>
<text x="643" y="690" font-size="9.5" fill="#000" stroke="#000" stroke-width="0.3" textLength="52" lengthAdjust="spacingAndGlyphs">24 <tspan font-family="Liberation Sans">J</tspan>an 04:00</text>
<rect x="708" y="678" width="1" height="3" fill="#000000"/>
<text x="707" y="690" font-size="9.5" fill="#000" stroke="#000" stroke-width="0.3" textLength="52" lengthAdjust="spacingAndGlyphs">27 <tspan font-family="Liberation Sans">J</tspan>an 08:00</text>
<rect x="772" y="678" width="1" height="3" fill="#000000"/>
<text x="771" y="690" font-size="9.5" fill="#000" stroke="#000" stroke-width="0.3" textLength="52" lengthAdjust="spacingAndGlyphs">28 <tspan font-family="Liberation Sans">J</tspan>an 16:00</text>
<rect x="836" y="678" width="1" height="3" fill="#000000"/>
<text x="835" y="690" font-size="9.5" fill="#000" stroke="#000" stroke-width="0.3" textLength="52" lengthAdjust="spacingAndGlyphs">30 <tspan font-family="Liberation Sans">J</tspan>an 00:00</text>
<rect x="900" y="678" width="1" height="3" fill="#000000"/>
<text x="899" y="690" font-size="9.5" fill="#000" stroke="#000" stroke-width="0.3" textLength="52" lengthAdjust="spacingAndGlyphs">31 <tspan font-family="Liberation Sans">J</tspan>an 08:00</text>
<rect x="964" y="678" width="1" height="3" fill="#000000"/>
<text x="963" y="690" font-size="9.5" fill="#000" stroke="#000" stroke-width="0.3" textLength="50" lengthAdjust="spacingAndGlyphs">3 Feb 12:00</text>
<rect x="1028" y="678" width="1" height="3" fill="#000000"/>
<text x="1027" y="690" font-size="9.5" fill="#000" stroke="#000" stroke-width="0.3" textLength="50" lengthAdjust="spacingAndGlyphs">4 Feb 20:00</text>
<rect x="1092" y="678" width="1" height="3" fill="#000000"/>
<text x="1091" y="690" font-size="9.5" fill="#000" stroke="#000" stroke-width="0.3" textLength="50" lengthAdjust="spacingAndGlyphs">6 Feb 04:00</text>
<rect x="1156" y="678" width="1" height="3" fill="#000000"/>
<text x="1155" y="690" font-size="9.5" fill="#000" stroke="#000" stroke-width="0.3" textLength="50" lengthAdjust="spacingAndGlyphs">7 Feb 12:00</text>
</svg>
</body></html>
